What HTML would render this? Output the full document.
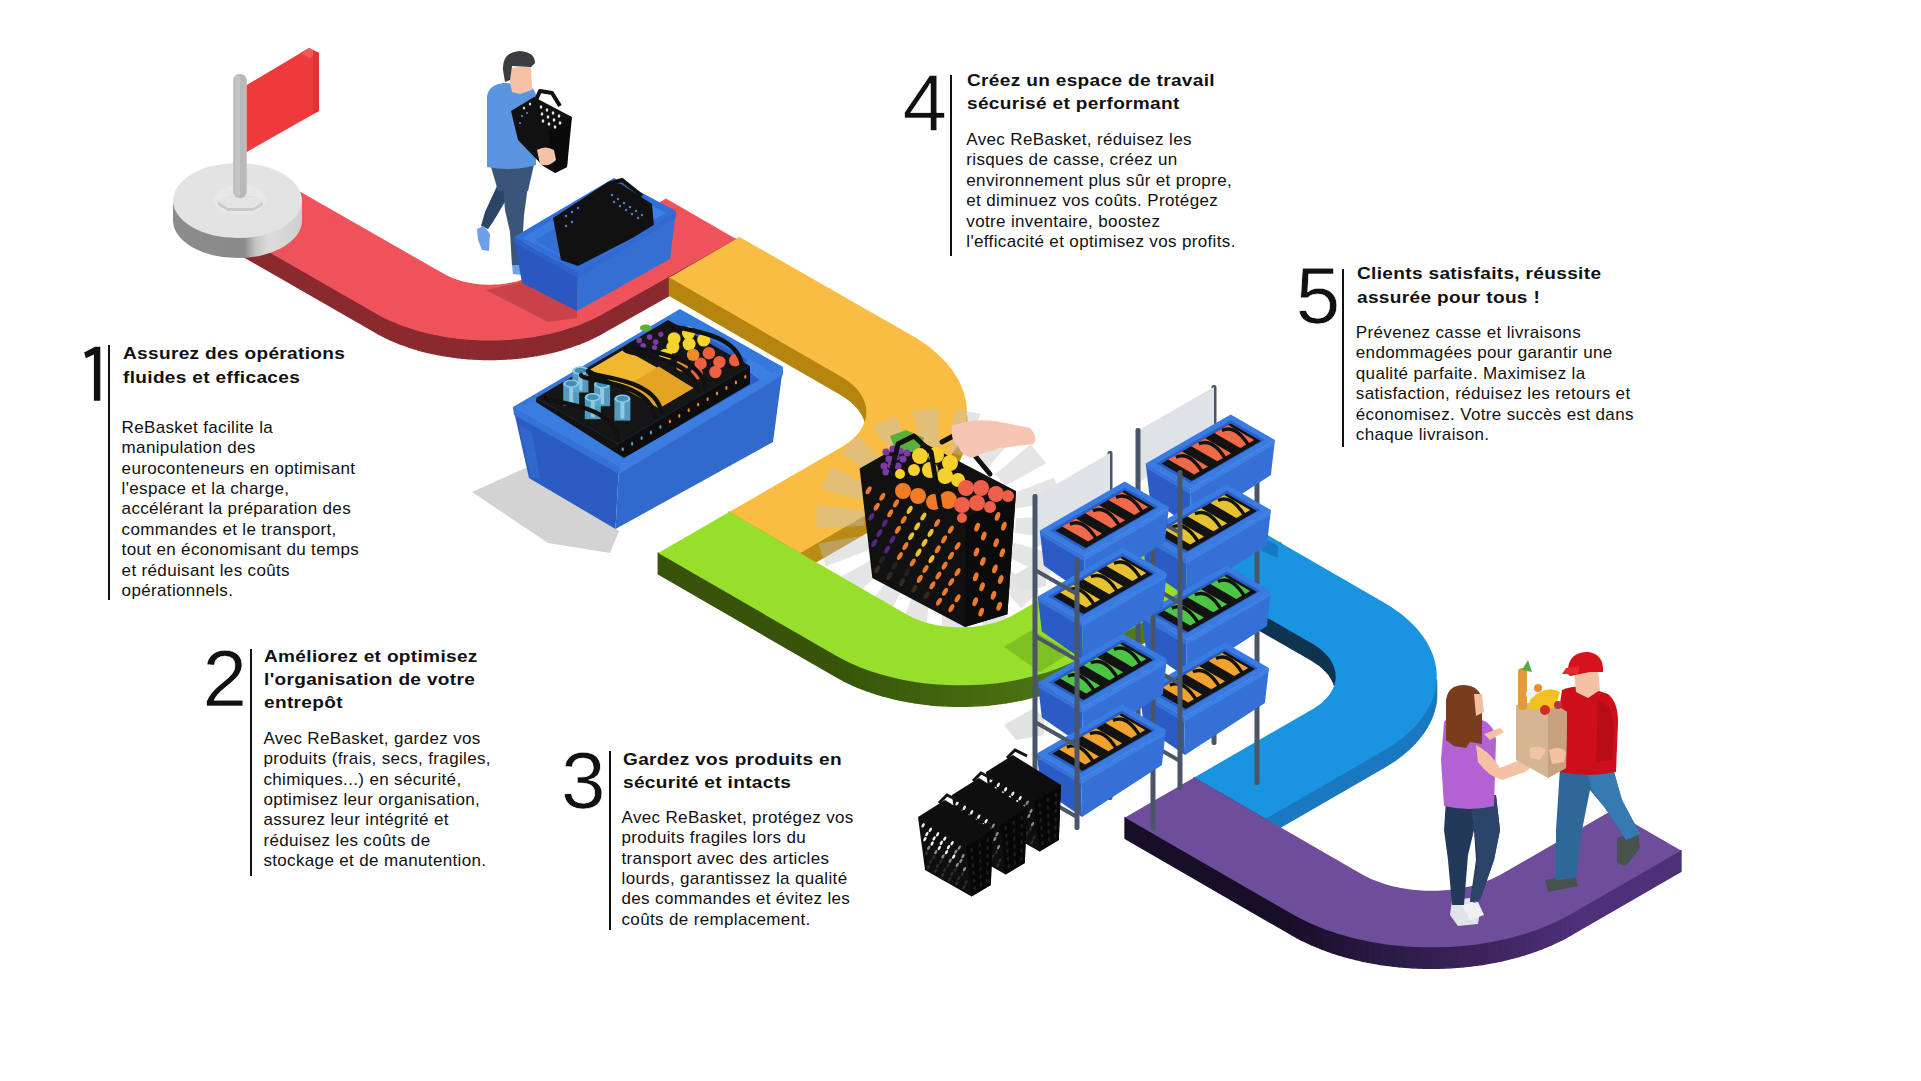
<!DOCTYPE html>
<html><head><meta charset="utf-8">
<style>
html,body{margin:0;padding:0;background:#fff;}
body{width:1921px;height:1081px;position:relative;overflow:hidden;font-family:"Liberation Sans",sans-serif;color:#111;}
svg{position:absolute;left:0;top:0;}
.num{position:absolute;font-size:80px;line-height:80px;font-weight:400;color:#111;-webkit-text-stroke:0.7px #fff;}
.bar{position:absolute;width:2.2px;background:#111;}
.t{position:absolute;font-weight:700;font-size:17px;line-height:23.3px;letter-spacing:0.3px;white-space:nowrap;color:#111;transform:scaleX(1.12);transform-origin:0 0;}
.b{position:absolute;font-weight:400;font-size:17px;line-height:20.4px;letter-spacing:0.35px;white-space:nowrap;color:#111;}
</style></head><body>
<svg width="1921" height="1081" viewBox="0 0 1921 1081">
<defs>

</defs>
<g id="ext">
<path d="M207.8,217.0 L375.4,313.2 L375.4,332.2 L207.8,236.0 Z" fill="#8a2a2e" stroke="#8a2a2e" stroke-width="1.3" stroke-linejoin="round"/>
<path d="M375.4,313.2 L379.2,315.4 L379.2,334.4 L375.4,332.2 Z" fill="#8a2a2e" stroke="#8a2a2e" stroke-width="1.3" stroke-linejoin="round"/>
<path d="M379.2,315.4 L383.1,317.4 L383.1,336.4 L379.2,334.4 Z" fill="#8a2a2e" stroke="#8a2a2e" stroke-width="1.3" stroke-linejoin="round"/>
<path d="M383.1,317.4 L387.2,319.4 L387.2,338.4 L383.1,336.4 Z" fill="#8a2a2e" stroke="#8a2a2e" stroke-width="1.3" stroke-linejoin="round"/>
<path d="M387.2,319.4 L391.3,321.3 L391.3,340.3 L387.2,338.4 Z" fill="#8a2a2e" stroke="#8a2a2e" stroke-width="1.3" stroke-linejoin="round"/>
<path d="M391.3,321.3 L395.6,323.1 L395.6,342.1 L391.3,340.3 Z" fill="#8a2a2e" stroke="#8a2a2e" stroke-width="1.3" stroke-linejoin="round"/>
<path d="M395.6,323.1 L399.9,324.9 L399.9,343.9 L395.6,342.1 Z" fill="#8a2a2e" stroke="#8a2a2e" stroke-width="1.3" stroke-linejoin="round"/>
<path d="M399.9,324.9 L404.4,326.5 L404.4,345.5 L399.9,343.9 Z" fill="#8a2a2e" stroke="#8a2a2e" stroke-width="1.3" stroke-linejoin="round"/>
<path d="M404.4,326.5 L408.9,328.1 L408.9,347.1 L404.4,345.5 Z" fill="#8a2a2e" stroke="#8a2a2e" stroke-width="1.3" stroke-linejoin="round"/>
<path d="M408.9,328.1 L413.5,329.6 L413.5,348.6 L408.9,347.1 Z" fill="#8a2a2e" stroke="#8a2a2e" stroke-width="1.3" stroke-linejoin="round"/>
<path d="M413.5,329.6 L418.2,331.0 L418.2,350.0 L413.5,348.6 Z" fill="#8a2a2e" stroke="#8a2a2e" stroke-width="1.3" stroke-linejoin="round"/>
<path d="M418.2,331.0 L423.0,332.3 L423.0,351.3 L418.2,350.0 Z" fill="#8a2a2e" stroke="#8a2a2e" stroke-width="1.3" stroke-linejoin="round"/>
<path d="M423.0,332.3 L427.9,333.5 L427.9,352.5 L423.0,351.3 Z" fill="#8a2a2e" stroke="#8a2a2e" stroke-width="1.3" stroke-linejoin="round"/>
<path d="M427.9,333.5 L432.8,334.6 L432.8,353.6 L427.9,352.5 Z" fill="#8a2a2e" stroke="#8a2a2e" stroke-width="1.3" stroke-linejoin="round"/>
<path d="M432.8,334.6 L437.8,335.6 L437.8,354.6 L432.8,353.6 Z" fill="#8a2a2e" stroke="#8a2a2e" stroke-width="1.3" stroke-linejoin="round"/>
<path d="M437.8,335.6 L442.8,336.6 L442.8,355.6 L437.8,354.6 Z" fill="#8a2a2e" stroke="#8a2a2e" stroke-width="1.3" stroke-linejoin="round"/>
<path d="M442.8,336.6 L447.9,337.4 L447.9,356.4 L442.8,355.6 Z" fill="#8a2a2e" stroke="#8a2a2e" stroke-width="1.3" stroke-linejoin="round"/>
<path d="M447.9,337.4 L453.0,338.1 L453.0,357.1 L447.9,356.4 Z" fill="#8a2a2e" stroke="#8a2a2e" stroke-width="1.3" stroke-linejoin="round"/>
<path d="M453.0,338.1 L458.2,338.8 L458.2,357.8 L453.0,357.1 Z" fill="#8a2a2e" stroke="#8a2a2e" stroke-width="1.3" stroke-linejoin="round"/>
<path d="M458.2,338.8 L463.4,339.3 L463.4,358.3 L458.2,357.8 Z" fill="#8a2a2e" stroke="#8a2a2e" stroke-width="1.3" stroke-linejoin="round"/>
<path d="M463.4,339.3 L468.6,339.8 L468.6,358.8 L463.4,358.3 Z" fill="#8a2a2e" stroke="#8a2a2e" stroke-width="1.3" stroke-linejoin="round"/>
<path d="M468.6,339.8 L473.9,340.1 L473.9,359.1 L468.6,358.8 Z" fill="#8a2a2e" stroke="#8a2a2e" stroke-width="1.3" stroke-linejoin="round"/>
<path d="M473.9,340.1 L479.2,340.4 L479.2,359.4 L473.9,359.1 Z" fill="#8a2a2e" stroke="#8a2a2e" stroke-width="1.3" stroke-linejoin="round"/>
<path d="M479.2,340.4 L484.4,340.5 L484.4,359.5 L479.2,359.4 Z" fill="#8a2a2e" stroke="#8a2a2e" stroke-width="1.3" stroke-linejoin="round"/>
<path d="M484.4,340.5 L489.7,340.6 L489.7,359.6 L484.4,359.5 Z" fill="#8a2a2e" stroke="#8a2a2e" stroke-width="1.3" stroke-linejoin="round"/>
<path d="M489.7,340.6 L495.0,340.5 L495.0,359.5 L489.7,359.6 Z" fill="#8a2a2e" stroke="#8a2a2e" stroke-width="1.3" stroke-linejoin="round"/>
<path d="M495.0,340.5 L500.3,340.4 L500.3,359.4 L495.0,359.5 Z" fill="#8a2a2e" stroke="#8a2a2e" stroke-width="1.3" stroke-linejoin="round"/>
<path d="M500.3,340.4 L505.6,340.1 L505.6,359.1 L500.3,359.4 Z" fill="#8a2a2e" stroke="#8a2a2e" stroke-width="1.3" stroke-linejoin="round"/>
<path d="M505.6,340.1 L510.8,339.8 L510.8,358.8 L505.6,359.1 Z" fill="#8a2a2e" stroke="#8a2a2e" stroke-width="1.3" stroke-linejoin="round"/>
<path d="M510.8,339.8 L516.1,339.3 L516.1,358.3 L510.8,358.8 Z" fill="#8a2a2e" stroke="#8a2a2e" stroke-width="1.3" stroke-linejoin="round"/>
<path d="M516.1,339.3 L521.3,338.8 L521.3,357.8 L516.1,358.3 Z" fill="#8a2a2e" stroke="#8a2a2e" stroke-width="1.3" stroke-linejoin="round"/>
<path d="M521.3,338.8 L526.4,338.1 L526.4,357.1 L521.3,357.8 Z" fill="#8a2a2e" stroke="#8a2a2e" stroke-width="1.3" stroke-linejoin="round"/>
<path d="M526.4,338.1 L531.6,337.4 L531.6,356.4 L526.4,357.1 Z" fill="#8a2a2e" stroke="#8a2a2e" stroke-width="1.3" stroke-linejoin="round"/>
<path d="M531.6,337.4 L536.7,336.6 L536.7,355.6 L531.6,356.4 Z" fill="#8a2a2e" stroke="#8a2a2e" stroke-width="1.3" stroke-linejoin="round"/>
<path d="M536.7,336.6 L541.7,335.6 L541.7,354.6 L536.7,355.6 Z" fill="#8a2a2e" stroke="#8a2a2e" stroke-width="1.3" stroke-linejoin="round"/>
<path d="M541.7,335.6 L546.7,334.6 L546.7,353.6 L541.7,354.6 Z" fill="#8a2a2e" stroke="#8a2a2e" stroke-width="1.3" stroke-linejoin="round"/>
<path d="M546.7,334.6 L551.6,333.5 L551.6,352.5 L546.7,353.6 Z" fill="#8a2a2e" stroke="#8a2a2e" stroke-width="1.3" stroke-linejoin="round"/>
<path d="M551.6,333.5 L556.5,332.3 L556.5,351.3 L551.6,352.5 Z" fill="#8a2a2e" stroke="#8a2a2e" stroke-width="1.3" stroke-linejoin="round"/>
<path d="M556.5,332.3 L561.2,331.0 L561.2,350.0 L556.5,351.3 Z" fill="#8a2a2e" stroke="#8a2a2e" stroke-width="1.3" stroke-linejoin="round"/>
<path d="M561.2,331.0 L565.9,329.6 L565.9,348.6 L561.2,350.0 Z" fill="#8a2a2e" stroke="#8a2a2e" stroke-width="1.3" stroke-linejoin="round"/>
<path d="M565.9,329.6 L570.6,328.1 L570.6,347.1 L565.9,348.6 Z" fill="#8a2a2e" stroke="#8a2a2e" stroke-width="1.3" stroke-linejoin="round"/>
<path d="M570.6,328.1 L575.1,326.5 L575.1,345.5 L570.6,347.1 Z" fill="#8a2a2e" stroke="#8a2a2e" stroke-width="1.3" stroke-linejoin="round"/>
<path d="M575.1,326.5 L579.6,324.9 L579.6,343.9 L575.1,345.5 Z" fill="#8a2a2e" stroke="#8a2a2e" stroke-width="1.3" stroke-linejoin="round"/>
<path d="M579.6,324.9 L583.9,323.1 L583.9,342.1 L579.6,343.9 Z" fill="#8a2a2e" stroke="#8a2a2e" stroke-width="1.3" stroke-linejoin="round"/>
<path d="M583.9,323.1 L588.2,321.3 L588.2,340.3 L583.9,342.1 Z" fill="#8a2a2e" stroke="#8a2a2e" stroke-width="1.3" stroke-linejoin="round"/>
<path d="M588.2,321.3 L592.3,319.4 L592.3,338.4 L588.2,340.3 Z" fill="#8a2a2e" stroke="#8a2a2e" stroke-width="1.3" stroke-linejoin="round"/>
<path d="M592.3,319.4 L596.3,317.4 L596.3,336.4 L592.3,338.4 Z" fill="#8a2a2e" stroke="#8a2a2e" stroke-width="1.3" stroke-linejoin="round"/>
<path d="M596.3,317.4 L600.3,315.4 L600.3,334.4 L596.3,336.4 Z" fill="#8a2a2e" stroke="#8a2a2e" stroke-width="1.3" stroke-linejoin="round"/>
<path d="M600.3,315.4 L604.1,313.2 L604.1,332.2 L600.3,334.4 Z" fill="#8a2a2e" stroke="#8a2a2e" stroke-width="1.3" stroke-linejoin="round"/>
<path d="M604.1,313.2 L736.1,239.0 L736.1,258.0 L604.1,332.2 Z" fill="#8a2a2e" stroke="#8a2a2e" stroke-width="1.3" stroke-linejoin="round"/>
<path d="M207.8,217.0 L375.4,313.2 L379.2,315.4 L383.1,317.4 L387.2,319.4 L391.3,321.3 L395.6,323.1 L399.9,324.9 L404.4,326.5 L408.9,328.1 L413.5,329.6 L418.2,331.0 L423.0,332.3 L427.9,333.5 L432.8,334.6 L437.8,335.6 L442.8,336.6 L447.9,337.4 L453.0,338.1 L458.2,338.8 L463.4,339.3 L468.6,339.8 L473.9,340.1 L479.2,340.4 L484.4,340.5 L489.7,340.6 L495.0,340.5 L500.3,340.4 L505.6,340.1 L510.8,339.8 L516.1,339.3 L521.3,338.8 L526.4,338.1 L531.6,337.4 L536.7,336.6 L541.7,335.6 L546.7,334.6 L551.6,333.5 L556.5,332.3 L561.2,331.0 L565.9,329.6 L570.6,328.1 L575.1,326.5 L579.6,324.9 L583.9,323.1 L588.2,321.3 L592.3,319.4 L596.3,317.4 L600.3,315.4 L604.1,313.2 L736.1,239.0 L666.0,198.5 L535.6,273.8 L534.1,274.6 L532.5,275.4 L530.9,276.2 L529.3,277.0 L527.5,277.7 L525.8,278.4 L524.0,279.1 L522.2,279.7 L520.3,280.3 L518.4,280.9 L516.5,281.4 L514.6,281.9 L512.6,282.3 L510.6,282.7 L508.6,283.1 L506.5,283.4 L504.5,283.7 L502.4,284.0 L500.3,284.2 L498.2,284.4 L496.1,284.5 L494.0,284.6 L491.9,284.7 L489.7,284.7 L487.6,284.7 L485.5,284.6 L483.4,284.5 L481.3,284.4 L479.2,284.2 L477.1,284.0 L475.0,283.7 L472.9,283.4 L470.9,283.1 L468.9,282.7 L466.9,282.3 L464.9,281.9 L462.9,281.4 L461.0,280.9 L459.1,280.3 L457.3,279.7 L455.5,279.1 L453.7,278.4 L451.9,277.7 L450.2,277.0 L448.6,276.2 L446.9,275.4 L445.4,274.6 L443.8,273.8 L275.8,177.8 Z" fill="#ee535c"/>
<path d="M966.7,415.5 L966.4,419.1 L966.4,437.1 L966.7,433.5 Z" fill="#b98a14" stroke="#b98a14" stroke-width="1.3" stroke-linejoin="round"/>
<path d="M966.4,419.1 L965.9,422.6 L965.9,440.6 L966.4,437.1 Z" fill="#b98a14" stroke="#b98a14" stroke-width="1.3" stroke-linejoin="round"/>
<path d="M965.9,422.6 L965.2,426.1 L965.2,444.1 L965.9,440.6 Z" fill="#b98a14" stroke="#b98a14" stroke-width="1.3" stroke-linejoin="round"/>
<path d="M965.2,426.1 L964.3,429.6 L964.3,447.6 L965.2,444.1 Z" fill="#b98a14" stroke="#b98a14" stroke-width="1.3" stroke-linejoin="round"/>
<path d="M964.3,429.6 L963.2,433.1 L963.2,451.1 L964.3,447.6 Z" fill="#b98a14" stroke="#b98a14" stroke-width="1.3" stroke-linejoin="round"/>
<path d="M963.2,433.1 L961.9,436.6 L961.9,454.6 L963.2,451.1 Z" fill="#b98a14" stroke="#b98a14" stroke-width="1.3" stroke-linejoin="round"/>
<path d="M961.9,436.6 L960.4,440.0 L960.4,458.0 L961.9,454.6 Z" fill="#b98a14" stroke="#b98a14" stroke-width="1.3" stroke-linejoin="round"/>
<path d="M960.4,440.0 L958.7,443.4 L958.7,461.4 L960.4,458.0 Z" fill="#b98a14" stroke="#b98a14" stroke-width="1.3" stroke-linejoin="round"/>
<path d="M958.7,443.4 L956.9,446.8 L956.9,464.8 L958.7,461.4 Z" fill="#b98a14" stroke="#b98a14" stroke-width="1.3" stroke-linejoin="round"/>
<path d="M956.9,446.8 L954.8,450.1 L954.8,468.1 L956.9,464.8 Z" fill="#b98a14" stroke="#b98a14" stroke-width="1.3" stroke-linejoin="round"/>
<path d="M954.8,450.1 L952.5,453.4 L952.5,471.4 L954.8,468.1 Z" fill="#b98a14" stroke="#b98a14" stroke-width="1.3" stroke-linejoin="round"/>
<path d="M952.5,453.4 L950.1,456.6 L950.1,474.6 L952.5,471.4 Z" fill="#b98a14" stroke="#b98a14" stroke-width="1.3" stroke-linejoin="round"/>
<path d="M950.1,456.6 L947.5,459.9 L947.5,477.9 L950.1,474.6 Z" fill="#b98a14" stroke="#b98a14" stroke-width="1.3" stroke-linejoin="round"/>
<path d="M947.5,459.9 L944.7,463.0 L944.7,481.0 L947.5,477.9 Z" fill="#b98a14" stroke="#b98a14" stroke-width="1.3" stroke-linejoin="round"/>
<path d="M944.7,463.0 L941.7,466.1 L941.7,484.1 L944.7,481.0 Z" fill="#b98a14" stroke="#b98a14" stroke-width="1.3" stroke-linejoin="round"/>
<path d="M941.7,466.1 L938.6,469.1 L938.6,487.1 L941.7,484.1 Z" fill="#b98a14" stroke="#b98a14" stroke-width="1.3" stroke-linejoin="round"/>
<path d="M938.6,469.1 L935.2,472.1 L935.2,490.1 L938.6,487.1 Z" fill="#b98a14" stroke="#b98a14" stroke-width="1.3" stroke-linejoin="round"/>
<path d="M935.2,472.1 L931.7,475.0 L931.7,493.0 L935.2,490.1 Z" fill="#b98a14" stroke="#b98a14" stroke-width="1.3" stroke-linejoin="round"/>
<path d="M931.7,475.0 L928.1,477.9 L928.1,495.9 L931.7,493.0 Z" fill="#b98a14" stroke="#b98a14" stroke-width="1.3" stroke-linejoin="round"/>
<path d="M928.1,477.9 L924.3,480.6 L924.3,498.6 L928.1,495.9 Z" fill="#b98a14" stroke="#b98a14" stroke-width="1.3" stroke-linejoin="round"/>
<path d="M924.3,480.6 L920.3,483.3 L920.3,501.3 L924.3,498.6 Z" fill="#b98a14" stroke="#b98a14" stroke-width="1.3" stroke-linejoin="round"/>
<path d="M920.3,483.3 L916.2,486.0 L916.2,504.0 L920.3,501.3 Z" fill="#b98a14" stroke="#b98a14" stroke-width="1.3" stroke-linejoin="round"/>
<path d="M916.2,486.0 L911.9,488.5 L911.9,506.5 L916.2,504.0 Z" fill="#b98a14" stroke="#b98a14" stroke-width="1.3" stroke-linejoin="round"/>
<path d="M911.9,488.5 L800.2,553.0 L800.2,571.0 L911.9,506.5 Z" fill="#b98a14" stroke="#b98a14" stroke-width="1.3" stroke-linejoin="round"/>
<path d="M800.2,553.0 L729.2,512.0 L729.2,530.0 L800.2,571.0 Z" fill="#b5850f" stroke="#b5850f" stroke-width="1.3" stroke-linejoin="round"/>
<path d="M866.3,410.4 L866.2,408.7 L866.2,426.7 L866.3,428.4 Z" fill="#b5850f" stroke="#b5850f" stroke-width="1.3" stroke-linejoin="round"/>
<path d="M866.2,408.7 L866.0,407.1 L866.0,425.1 L866.2,426.7 Z" fill="#b5850f" stroke="#b5850f" stroke-width="1.3" stroke-linejoin="round"/>
<path d="M866.0,407.1 L865.6,405.4 L865.6,423.4 L866.0,425.1 Z" fill="#b5850f" stroke="#b5850f" stroke-width="1.3" stroke-linejoin="round"/>
<path d="M865.6,405.4 L865.2,403.8 L865.2,421.8 L865.6,423.4 Z" fill="#b5850f" stroke="#b5850f" stroke-width="1.3" stroke-linejoin="round"/>
<path d="M865.2,403.8 L864.7,402.2 L864.7,420.2 L865.2,421.8 Z" fill="#b5850f" stroke="#b5850f" stroke-width="1.3" stroke-linejoin="round"/>
<path d="M864.7,402.2 L864.1,400.6 L864.1,418.6 L864.7,420.2 Z" fill="#b5850f" stroke="#b5850f" stroke-width="1.3" stroke-linejoin="round"/>
<path d="M864.1,400.6 L863.4,399.0 L863.4,417.0 L864.1,418.6 Z" fill="#b5850f" stroke="#b5850f" stroke-width="1.3" stroke-linejoin="round"/>
<path d="M863.4,399.0 L862.6,397.4 L862.6,415.4 L863.4,417.0 Z" fill="#b5850f" stroke="#b5850f" stroke-width="1.3" stroke-linejoin="round"/>
<path d="M862.6,397.4 L861.8,395.9 L861.8,413.9 L862.6,415.4 Z" fill="#b5850f" stroke="#b5850f" stroke-width="1.3" stroke-linejoin="round"/>
<path d="M861.8,395.9 L860.8,394.3 L860.8,412.3 L861.8,413.9 Z" fill="#b5850f" stroke="#b5850f" stroke-width="1.3" stroke-linejoin="round"/>
<path d="M860.8,394.3 L859.8,392.8 L859.8,410.8 L860.8,412.3 Z" fill="#b5850f" stroke="#b5850f" stroke-width="1.3" stroke-linejoin="round"/>
<path d="M859.8,392.8 L858.6,391.3 L858.6,409.3 L859.8,410.8 Z" fill="#b5850f" stroke="#b5850f" stroke-width="1.3" stroke-linejoin="round"/>
<path d="M858.6,391.3 L857.4,389.8 L857.4,407.8 L858.6,409.3 Z" fill="#b5850f" stroke="#b5850f" stroke-width="1.3" stroke-linejoin="round"/>
<path d="M857.4,389.8 L856.1,388.3 L856.1,406.3 L857.4,407.8 Z" fill="#b5850f" stroke="#b5850f" stroke-width="1.3" stroke-linejoin="round"/>
<path d="M856.1,388.3 L854.7,386.9 L854.7,404.9 L856.1,406.3 Z" fill="#b5850f" stroke="#b5850f" stroke-width="1.3" stroke-linejoin="round"/>
<path d="M854.7,386.9 L853.3,385.5 L853.3,403.5 L854.7,404.9 Z" fill="#b5850f" stroke="#b5850f" stroke-width="1.3" stroke-linejoin="round"/>
<path d="M853.3,385.5 L851.7,384.1 L851.7,402.1 L853.3,403.5 Z" fill="#b5850f" stroke="#b5850f" stroke-width="1.3" stroke-linejoin="round"/>
<path d="M851.7,384.1 L850.1,382.8 L850.1,400.8 L851.7,402.1 Z" fill="#b5850f" stroke="#b5850f" stroke-width="1.3" stroke-linejoin="round"/>
<path d="M850.1,382.8 L848.4,381.4 L848.4,399.4 L850.1,400.8 Z" fill="#b5850f" stroke="#b5850f" stroke-width="1.3" stroke-linejoin="round"/>
<path d="M848.4,381.4 L846.6,380.2 L846.6,398.2 L848.4,399.4 Z" fill="#b5850f" stroke="#b5850f" stroke-width="1.3" stroke-linejoin="round"/>
<path d="M846.6,380.2 L844.8,378.9 L844.8,396.9 L846.6,398.2 Z" fill="#b5850f" stroke="#b5850f" stroke-width="1.3" stroke-linejoin="round"/>
<path d="M844.8,378.9 L842.9,377.7 L842.9,395.7 L844.8,396.9 Z" fill="#b5850f" stroke="#b5850f" stroke-width="1.3" stroke-linejoin="round"/>
<path d="M842.9,377.7 L840.9,376.5 L840.9,394.5 L842.9,395.7 Z" fill="#b5850f" stroke="#b5850f" stroke-width="1.3" stroke-linejoin="round"/>
<path d="M840.9,376.5 L669.4,277.5 L669.4,295.5 L840.9,394.5 Z" fill="#b5850f" stroke="#b5850f" stroke-width="1.3" stroke-linejoin="round"/>
<path d="M739.6,237.0 L911.9,335.5 L916.2,338.0 L920.3,340.7 L924.3,343.4 L928.1,346.1 L931.7,349.0 L935.2,351.9 L938.6,354.9 L941.7,357.9 L944.7,361.0 L947.5,364.1 L950.1,367.4 L952.5,370.6 L954.8,373.9 L956.9,377.2 L958.7,380.6 L960.4,384.0 L961.9,387.4 L963.2,390.9 L964.3,394.4 L965.2,397.9 L965.9,401.4 L966.4,404.9 L966.7,408.5 L966.8,412.0 L966.7,415.5 L966.4,419.1 L965.9,422.6 L965.2,426.1 L964.3,429.6 L963.2,433.1 L961.9,436.6 L960.4,440.0 L958.7,443.4 L956.9,446.8 L954.8,450.1 L952.5,453.4 L950.1,456.6 L947.5,459.9 L944.7,463.0 L941.7,466.1 L938.6,469.1 L935.2,472.1 L931.7,475.0 L928.1,477.9 L924.3,480.6 L920.3,483.3 L916.2,486.0 L911.9,488.5 L800.2,553.0 L729.2,512.0 L840.9,447.5 L842.9,446.3 L844.8,445.1 L846.6,443.8 L848.4,442.6 L850.1,441.2 L851.7,439.9 L853.3,438.5 L854.7,437.1 L856.1,435.7 L857.4,434.2 L858.6,432.7 L859.8,431.2 L860.8,429.7 L861.8,428.1 L862.6,426.6 L863.4,425.0 L864.1,423.4 L864.7,421.8 L865.2,420.2 L865.6,418.6 L866.0,416.9 L866.2,415.3 L866.3,413.6 L866.4,412.0 L866.3,410.4 L866.2,408.7 L866.0,407.1 L865.6,405.4 L865.2,403.8 L864.7,402.2 L864.1,400.6 L863.4,399.0 L862.6,397.4 L861.8,395.9 L860.8,394.3 L859.8,392.8 L858.6,391.3 L857.4,389.8 L856.1,388.3 L854.7,386.9 L853.3,385.5 L851.7,384.1 L850.1,382.8 L848.4,381.4 L846.6,380.2 L844.8,378.9 L842.9,377.7 L840.9,376.5 L669.4,277.5 Z" fill="#f9bd44"/>
<path d="M867.3,501.6 L821.4,488.6 L831.5,466.7 L873.5,488.1 Z M879.3,479.9 L841.0,453.3 L858.6,435.9 L890.1,469.2 Z M898.6,463.4 L872.5,426.3 L895.6,415.5 L912.8,456.7 Z M922.9,453.9 L912.1,410.8 L937.8,407.9 L938.7,452.1 Z M949.3,452.6 L955.1,408.8 L980.4,414.1 L964.7,455.9 Z M974.5,459.7 L996.3,420.4 L1018.0,433.3 L987.8,467.7 Z M995.6,474.3 L1030.7,444.2 L1046.3,463.2 L1005.1,486.0 Z M1010.0,494.7 L1054.1,477.4 L1061.7,500.2 L1014.6,508.7 Z M1015.9,518.3 L1063.8,516.0 L1062.5,539.8 L1015.1,532.9 Z M1012.7,542.4 L1058.6,555.4 L1048.5,577.3 L1006.5,555.9 Z M1000.7,564.1 L1039.0,590.7 L1021.4,608.1 L989.9,574.8 Z M981.4,580.6 L1007.5,617.7 L984.4,628.5 L967.2,587.3 Z M957.1,590.1 L967.9,633.2 L942.2,636.1 L941.3,591.9 Z M930.7,591.4 L924.9,635.2 L899.6,629.9 L915.3,588.1 Z M905.5,584.3 L883.7,623.6 L862.0,610.7 L892.2,576.3 Z M884.4,569.7 L849.3,599.8 L833.7,580.8 L874.9,558.0 Z M870.0,549.3 L825.9,566.6 L818.3,543.8 L865.4,535.3 Z M864.1,525.7 L816.2,528.0 L817.5,504.2 L864.9,511.1 Z" fill="#c2c2c2" opacity="0.42"/>

<path d="M658.2,553.0 L835.7,655.5 L835.7,676.5 L658.2,574.0 Z" fill="#37540a" stroke="#37540a" stroke-width="1.3" stroke-linejoin="round"/>
<path d="M835.7,655.5 L839.9,657.8 L839.9,678.8 L835.7,676.5 Z" fill="#37540a" stroke="#37540a" stroke-width="1.3" stroke-linejoin="round"/>
<path d="M839.9,657.8 L844.1,660.1 L844.1,681.1 L839.9,678.8 Z" fill="#38550a" stroke="#38550a" stroke-width="1.3" stroke-linejoin="round"/>
<path d="M844.1,660.1 L848.5,662.2 L848.5,683.2 L844.1,681.1 Z" fill="#38560b" stroke="#38560b" stroke-width="1.3" stroke-linejoin="round"/>
<path d="M848.5,662.2 L853.1,664.3 L853.1,685.3 L848.5,683.2 Z" fill="#39570b" stroke="#39570b" stroke-width="1.3" stroke-linejoin="round"/>
<path d="M853.1,664.3 L857.7,666.3 L857.7,687.3 L853.1,685.3 Z" fill="#39580b" stroke="#39580b" stroke-width="1.3" stroke-linejoin="round"/>
<path d="M857.7,666.3 L862.4,668.2 L862.4,689.2 L857.7,687.3 Z" fill="#3a580b" stroke="#3a580b" stroke-width="1.3" stroke-linejoin="round"/>
<path d="M862.4,668.2 L867.3,670.0 L867.3,691.0 L862.4,689.2 Z" fill="#3a590b" stroke="#3a590b" stroke-width="1.3" stroke-linejoin="round"/>
<path d="M867.3,670.0 L872.2,671.7 L872.2,692.7 L867.3,691.0 Z" fill="#3b5a0c" stroke="#3b5a0c" stroke-width="1.3" stroke-linejoin="round"/>
<path d="M872.2,671.7 L877.3,673.3 L877.3,694.3 L872.2,692.7 Z" fill="#3b5b0c" stroke="#3b5b0c" stroke-width="1.3" stroke-linejoin="round"/>
<path d="M877.3,673.3 L882.4,674.8 L882.4,695.8 L877.3,694.3 Z" fill="#3c5c0c" stroke="#3c5c0c" stroke-width="1.3" stroke-linejoin="round"/>
<path d="M882.4,674.8 L887.6,676.2 L887.6,697.2 L882.4,695.8 Z" fill="#3c5c0c" stroke="#3c5c0c" stroke-width="1.3" stroke-linejoin="round"/>
<path d="M887.6,676.2 L892.9,677.6 L892.9,698.6 L887.6,697.2 Z" fill="#3d5d0c" stroke="#3d5d0c" stroke-width="1.3" stroke-linejoin="round"/>
<path d="M892.9,677.6 L898.3,678.8 L898.3,699.8 L892.9,698.6 Z" fill="#3d5e0d" stroke="#3d5e0d" stroke-width="1.3" stroke-linejoin="round"/>
<path d="M898.3,678.8 L903.7,679.9 L903.7,700.9 L898.3,699.8 Z" fill="#3e5f0d" stroke="#3e5f0d" stroke-width="1.3" stroke-linejoin="round"/>
<path d="M903.7,679.9 L909.2,680.9 L909.2,701.9 L903.7,700.9 Z" fill="#3e5f0d" stroke="#3e5f0d" stroke-width="1.3" stroke-linejoin="round"/>
<path d="M909.2,680.9 L914.8,681.9 L914.8,702.9 L909.2,701.9 Z" fill="#3f600d" stroke="#3f600d" stroke-width="1.3" stroke-linejoin="round"/>
<path d="M914.8,681.9 L920.4,682.7 L920.4,703.7 L914.8,702.9 Z" fill="#3f610d" stroke="#3f610d" stroke-width="1.3" stroke-linejoin="round"/>
<path d="M920.4,682.7 L926.0,683.4 L926.0,704.4 L920.4,703.7 Z" fill="#40620e" stroke="#40620e" stroke-width="1.3" stroke-linejoin="round"/>
<path d="M926.0,683.4 L931.7,684.0 L931.7,705.0 L926.0,704.4 Z" fill="#40630e" stroke="#40630e" stroke-width="1.3" stroke-linejoin="round"/>
<path d="M931.7,684.0 L937.4,684.5 L937.4,705.5 L931.7,705.0 Z" fill="#41630e" stroke="#41630e" stroke-width="1.3" stroke-linejoin="round"/>
<path d="M937.4,684.5 L943.1,684.8 L943.1,705.8 L937.4,705.5 Z" fill="#41640e" stroke="#41640e" stroke-width="1.3" stroke-linejoin="round"/>
<path d="M943.1,684.8 L948.9,685.1 L948.9,706.1 L943.1,705.8 Z" fill="#42650e" stroke="#42650e" stroke-width="1.3" stroke-linejoin="round"/>
<path d="M948.9,685.1 L954.7,685.3 L954.7,706.3 L948.9,706.1 Z" fill="#42660f" stroke="#42660f" stroke-width="1.3" stroke-linejoin="round"/>
<path d="M954.7,685.3 L960.4,685.3 L960.4,706.3 L954.7,706.3 Z" fill="#43670f" stroke="#43670f" stroke-width="1.3" stroke-linejoin="round"/>
<path d="M960.4,685.3 L966.2,685.3 L966.2,706.3 L960.4,706.3 Z" fill="#43670f" stroke="#43670f" stroke-width="1.3" stroke-linejoin="round"/>
<path d="M966.2,685.3 L972.0,685.1 L972.0,706.1 L966.2,706.3 Z" fill="#44680f" stroke="#44680f" stroke-width="1.3" stroke-linejoin="round"/>
<path d="M972.0,685.1 L977.7,684.8 L977.7,705.8 L972.0,706.1 Z" fill="#446910" stroke="#446910" stroke-width="1.3" stroke-linejoin="round"/>
<path d="M977.7,684.8 L983.4,684.5 L983.4,705.5 L977.7,705.8 Z" fill="#456a10" stroke="#456a10" stroke-width="1.3" stroke-linejoin="round"/>
<path d="M983.4,684.5 L989.2,684.0 L989.2,705.0 L983.4,705.5 Z" fill="#456b10" stroke="#456b10" stroke-width="1.3" stroke-linejoin="round"/>
<path d="M989.2,684.0 L994.8,683.4 L994.8,704.4 L989.2,705.0 Z" fill="#466b10" stroke="#466b10" stroke-width="1.3" stroke-linejoin="round"/>
<path d="M994.8,683.4 L1000.5,682.7 L1000.5,703.7 L994.8,704.4 Z" fill="#466c10" stroke="#466c10" stroke-width="1.3" stroke-linejoin="round"/>
<path d="M1000.5,682.7 L1006.1,681.9 L1006.1,702.9 L1000.5,703.7 Z" fill="#476d11" stroke="#476d11" stroke-width="1.3" stroke-linejoin="round"/>
<path d="M1006.1,681.9 L1011.6,680.9 L1011.6,701.9 L1006.1,702.9 Z" fill="#476e11" stroke="#476e11" stroke-width="1.3" stroke-linejoin="round"/>
<path d="M1011.6,680.9 L1017.1,679.9 L1017.1,700.9 L1011.6,701.9 Z" fill="#486f11" stroke="#486f11" stroke-width="1.3" stroke-linejoin="round"/>
<path d="M1017.1,679.9 L1022.5,678.8 L1022.5,699.8 L1017.1,700.9 Z" fill="#486f11" stroke="#486f11" stroke-width="1.3" stroke-linejoin="round"/>
<path d="M1022.5,678.8 L1027.9,677.6 L1027.9,698.6 L1022.5,699.8 Z" fill="#497011" stroke="#497011" stroke-width="1.3" stroke-linejoin="round"/>
<path d="M1027.9,677.6 L1033.2,676.2 L1033.2,697.2 L1027.9,698.6 Z" fill="#497112" stroke="#497112" stroke-width="1.3" stroke-linejoin="round"/>
<path d="M1033.2,676.2 L1038.4,674.8 L1038.4,695.8 L1033.2,697.2 Z" fill="#4a7212" stroke="#4a7212" stroke-width="1.3" stroke-linejoin="round"/>
<path d="M1038.4,674.8 L1043.6,673.3 L1043.6,694.3 L1038.4,695.8 Z" fill="#4a7212" stroke="#4a7212" stroke-width="1.3" stroke-linejoin="round"/>
<path d="M1043.6,673.3 L1048.6,671.7 L1048.6,692.7 L1043.6,694.3 Z" fill="#4b7312" stroke="#4b7312" stroke-width="1.3" stroke-linejoin="round"/>
<path d="M1048.6,671.7 L1053.6,670.0 L1053.6,691.0 L1048.6,692.7 Z" fill="#4b7412" stroke="#4b7412" stroke-width="1.3" stroke-linejoin="round"/>
<path d="M1053.6,670.0 L1058.4,668.2 L1058.4,689.2 L1053.6,691.0 Z" fill="#4c7513" stroke="#4c7513" stroke-width="1.3" stroke-linejoin="round"/>
<path d="M1058.4,668.2 L1063.1,666.3 L1063.1,687.3 L1058.4,689.2 Z" fill="#4c7613" stroke="#4c7613" stroke-width="1.3" stroke-linejoin="round"/>
<path d="M1063.1,666.3 L1067.8,664.3 L1067.8,685.3 L1063.1,687.3 Z" fill="#4d7613" stroke="#4d7613" stroke-width="1.3" stroke-linejoin="round"/>
<path d="M1067.8,664.3 L1072.3,662.2 L1072.3,683.2 L1067.8,685.3 Z" fill="#4d7713" stroke="#4d7713" stroke-width="1.3" stroke-linejoin="round"/>
<path d="M1072.3,662.2 L1076.7,660.1 L1076.7,681.1 L1072.3,683.2 Z" fill="#4e7813" stroke="#4e7813" stroke-width="1.3" stroke-linejoin="round"/>
<path d="M1076.7,660.1 L1081.0,657.8 L1081.0,678.8 L1076.7,681.1 Z" fill="#4e7914" stroke="#4e7914" stroke-width="1.3" stroke-linejoin="round"/>
<path d="M1081.0,657.8 L1085.1,655.5 L1085.1,676.5 L1081.0,678.8 Z" fill="#4f7a14" stroke="#4f7a14" stroke-width="1.3" stroke-linejoin="round"/>
<path d="M1085.1,655.5 L1280.9,542.5 L1280.9,563.5 L1085.1,676.5 Z" fill="#4f7a14" stroke="#4f7a14" stroke-width="1.3" stroke-linejoin="round"/>
<path d="M658.2,553.0 L835.7,655.5 L839.9,657.8 L844.1,660.1 L848.5,662.2 L853.1,664.3 L857.7,666.3 L862.4,668.2 L867.3,670.0 L872.2,671.7 L877.3,673.3 L882.4,674.8 L887.6,676.2 L892.9,677.6 L898.3,678.8 L903.7,679.9 L909.2,680.9 L914.8,681.9 L920.4,682.7 L926.0,683.4 L931.7,684.0 L937.4,684.5 L943.1,684.8 L948.9,685.1 L954.7,685.3 L960.4,685.3 L966.2,685.3 L972.0,685.1 L977.7,684.8 L983.4,684.5 L989.2,684.0 L994.8,683.4 L1000.5,682.7 L1006.1,681.9 L1011.6,680.9 L1017.1,679.9 L1022.5,678.8 L1027.9,677.6 L1033.2,676.2 L1038.4,674.8 L1043.6,673.3 L1048.6,671.7 L1053.6,670.0 L1058.4,668.2 L1063.1,666.3 L1067.8,664.3 L1072.3,662.2 L1076.7,660.1 L1081.0,657.8 L1085.1,655.5 L1280.9,542.5 L1209.8,501.5 L1014.1,614.5 L1012.3,615.5 L1010.5,616.5 L1008.6,617.4 L1006.6,618.3 L1004.7,619.1 L1002.6,620.0 L1000.5,620.7 L998.4,621.5 L996.2,622.2 L994.0,622.8 L991.8,623.4 L989.5,624.0 L987.2,624.5 L984.8,625.0 L982.5,625.5 L980.1,625.8 L977.7,626.2 L975.2,626.5 L972.8,626.8 L970.3,627.0 L967.9,627.1 L965.4,627.2 L962.9,627.3 L960.4,627.3 L957.9,627.3 L955.5,627.2 L953.0,627.1 L950.5,627.0 L948.1,626.8 L945.6,626.5 L943.2,626.2 L940.8,625.8 L938.4,625.5 L936.0,625.0 L933.7,624.5 L931.4,624.0 L929.1,623.4 L926.8,622.8 L924.6,622.2 L922.5,621.5 L920.3,620.7 L918.2,620.0 L916.2,619.1 L914.2,618.3 L912.3,617.4 L910.4,616.5 L908.5,615.5 L906.7,614.5 L729.2,512.0 Z" fill="#97df2a"/>
<path d="M1436.6,679.9 L1436.4,683.4 L1436.4,700.4 L1436.6,696.9 Z" fill="#1a78c0" stroke="#1a78c0" stroke-width="1.3" stroke-linejoin="round"/>
<path d="M1436.4,683.4 L1435.9,686.8 L1435.9,703.8 L1436.4,700.4 Z" fill="#1a78c0" stroke="#1a78c0" stroke-width="1.3" stroke-linejoin="round"/>
<path d="M1435.9,686.8 L1435.2,690.2 L1435.2,707.2 L1435.9,703.8 Z" fill="#1a78c0" stroke="#1a78c0" stroke-width="1.3" stroke-linejoin="round"/>
<path d="M1435.2,690.2 L1434.3,693.6 L1434.3,710.6 L1435.2,707.2 Z" fill="#1a78c0" stroke="#1a78c0" stroke-width="1.3" stroke-linejoin="round"/>
<path d="M1434.3,693.6 L1433.3,697.0 L1433.3,714.0 L1434.3,710.6 Z" fill="#1a78c0" stroke="#1a78c0" stroke-width="1.3" stroke-linejoin="round"/>
<path d="M1433.3,697.0 L1432.0,700.3 L1432.0,717.3 L1433.3,714.0 Z" fill="#1a78c0" stroke="#1a78c0" stroke-width="1.3" stroke-linejoin="round"/>
<path d="M1432.0,700.3 L1430.5,703.7 L1430.5,720.7 L1432.0,717.3 Z" fill="#1a78c0" stroke="#1a78c0" stroke-width="1.3" stroke-linejoin="round"/>
<path d="M1430.5,703.7 L1428.9,707.0 L1428.9,724.0 L1430.5,720.7 Z" fill="#1a78c0" stroke="#1a78c0" stroke-width="1.3" stroke-linejoin="round"/>
<path d="M1428.9,707.0 L1427.1,710.3 L1427.1,727.3 L1428.9,724.0 Z" fill="#1a78c0" stroke="#1a78c0" stroke-width="1.3" stroke-linejoin="round"/>
<path d="M1427.1,710.3 L1425.1,713.5 L1425.1,730.5 L1427.1,727.3 Z" fill="#1a78c0" stroke="#1a78c0" stroke-width="1.3" stroke-linejoin="round"/>
<path d="M1425.1,713.5 L1422.9,716.7 L1422.9,733.7 L1425.1,730.5 Z" fill="#1a78c0" stroke="#1a78c0" stroke-width="1.3" stroke-linejoin="round"/>
<path d="M1422.9,716.7 L1420.5,719.8 L1420.5,736.8 L1422.9,733.7 Z" fill="#1a78c0" stroke="#1a78c0" stroke-width="1.3" stroke-linejoin="round"/>
<path d="M1420.5,719.8 L1418.0,722.9 L1418.0,739.9 L1420.5,736.8 Z" fill="#1a78c0" stroke="#1a78c0" stroke-width="1.3" stroke-linejoin="round"/>
<path d="M1418.0,722.9 L1415.3,726.0 L1415.3,743.0 L1418.0,739.9 Z" fill="#1a78c0" stroke="#1a78c0" stroke-width="1.3" stroke-linejoin="round"/>
<path d="M1415.3,726.0 L1412.4,729.0 L1412.4,746.0 L1415.3,743.0 Z" fill="#1a78c0" stroke="#1a78c0" stroke-width="1.3" stroke-linejoin="round"/>
<path d="M1412.4,729.0 L1409.3,731.9 L1409.3,748.9 L1412.4,746.0 Z" fill="#1a78c0" stroke="#1a78c0" stroke-width="1.3" stroke-linejoin="round"/>
<path d="M1409.3,731.9 L1406.1,734.8 L1406.1,751.8 L1409.3,748.9 Z" fill="#1a78c0" stroke="#1a78c0" stroke-width="1.3" stroke-linejoin="round"/>
<path d="M1406.1,734.8 L1402.7,737.7 L1402.7,754.7 L1406.1,751.8 Z" fill="#1a78c0" stroke="#1a78c0" stroke-width="1.3" stroke-linejoin="round"/>
<path d="M1402.7,737.7 L1399.2,740.4 L1399.2,757.4 L1402.7,754.7 Z" fill="#1a78c0" stroke="#1a78c0" stroke-width="1.3" stroke-linejoin="round"/>
<path d="M1399.2,740.4 L1395.5,743.1 L1395.5,760.1 L1399.2,757.4 Z" fill="#1a78c0" stroke="#1a78c0" stroke-width="1.3" stroke-linejoin="round"/>
<path d="M1395.5,743.1 L1391.6,745.7 L1391.6,762.7 L1395.5,760.1 Z" fill="#1a78c0" stroke="#1a78c0" stroke-width="1.3" stroke-linejoin="round"/>
<path d="M1391.6,745.7 L1387.6,748.3 L1387.6,765.3 L1391.6,762.7 Z" fill="#1a78c0" stroke="#1a78c0" stroke-width="1.3" stroke-linejoin="round"/>
<path d="M1387.6,748.3 L1383.5,750.8 L1383.5,767.8 L1387.6,765.3 Z" fill="#1a78c0" stroke="#1a78c0" stroke-width="1.3" stroke-linejoin="round"/>
<path d="M1383.5,750.8 L1265.7,818.8 L1265.7,835.8 L1383.5,767.8 Z" fill="#1a78c0" stroke="#1a78c0" stroke-width="1.3" stroke-linejoin="round"/>
<path d="M1265.7,818.8 L1194.2,777.5 L1194.2,794.5 L1265.7,835.8 Z" fill="#0f3452" stroke="#0f3452" stroke-width="1.3" stroke-linejoin="round"/>
<path d="M1335.7,675.0 L1335.5,673.4 L1335.5,690.4 L1335.7,692.0 Z" fill="#0f3452" stroke="#0f3452" stroke-width="1.3" stroke-linejoin="round"/>
<path d="M1335.5,673.4 L1335.3,671.9 L1335.3,688.9 L1335.5,690.4 Z" fill="#0f3452" stroke="#0f3452" stroke-width="1.3" stroke-linejoin="round"/>
<path d="M1335.3,671.9 L1335.0,670.4 L1335.0,687.4 L1335.3,688.9 Z" fill="#0f3452" stroke="#0f3452" stroke-width="1.3" stroke-linejoin="round"/>
<path d="M1335.0,670.4 L1334.6,668.9 L1334.6,685.9 L1335.0,687.4 Z" fill="#0f3452" stroke="#0f3452" stroke-width="1.3" stroke-linejoin="round"/>
<path d="M1334.6,668.9 L1334.2,667.4 L1334.2,684.4 L1334.6,685.9 Z" fill="#0f3452" stroke="#0f3452" stroke-width="1.3" stroke-linejoin="round"/>
<path d="M1334.2,667.4 L1333.6,665.9 L1333.6,682.9 L1334.2,684.4 Z" fill="#0f3452" stroke="#0f3452" stroke-width="1.3" stroke-linejoin="round"/>
<path d="M1333.6,665.9 L1332.9,664.4 L1332.9,681.4 L1333.6,682.9 Z" fill="#0f3452" stroke="#0f3452" stroke-width="1.3" stroke-linejoin="round"/>
<path d="M1332.9,664.4 L1332.2,663.0 L1332.2,680.0 L1332.9,681.4 Z" fill="#0f3452" stroke="#0f3452" stroke-width="1.3" stroke-linejoin="round"/>
<path d="M1332.2,663.0 L1331.4,661.5 L1331.4,678.5 L1332.2,680.0 Z" fill="#0f3452" stroke="#0f3452" stroke-width="1.3" stroke-linejoin="round"/>
<path d="M1331.4,661.5 L1330.5,660.1 L1330.5,677.1 L1331.4,678.5 Z" fill="#0f3452" stroke="#0f3452" stroke-width="1.3" stroke-linejoin="round"/>
<path d="M1330.5,660.1 L1329.6,658.6 L1329.6,675.6 L1330.5,677.1 Z" fill="#0f3452" stroke="#0f3452" stroke-width="1.3" stroke-linejoin="round"/>
<path d="M1329.6,658.6 L1328.5,657.2 L1328.5,674.2 L1329.6,675.6 Z" fill="#0f3452" stroke="#0f3452" stroke-width="1.3" stroke-linejoin="round"/>
<path d="M1328.5,657.2 L1327.4,655.9 L1327.4,672.9 L1328.5,674.2 Z" fill="#0f3452" stroke="#0f3452" stroke-width="1.3" stroke-linejoin="round"/>
<path d="M1327.4,655.9 L1326.2,654.5 L1326.2,671.5 L1327.4,672.9 Z" fill="#0f3452" stroke="#0f3452" stroke-width="1.3" stroke-linejoin="round"/>
<path d="M1326.2,654.5 L1324.9,653.2 L1324.9,670.2 L1326.2,671.5 Z" fill="#0f3452" stroke="#0f3452" stroke-width="1.3" stroke-linejoin="round"/>
<path d="M1324.9,653.2 L1323.5,651.9 L1323.5,668.9 L1324.9,670.2 Z" fill="#0f3452" stroke="#0f3452" stroke-width="1.3" stroke-linejoin="round"/>
<path d="M1323.5,651.9 L1322.1,650.6 L1322.1,667.6 L1323.5,668.9 Z" fill="#0f3452" stroke="#0f3452" stroke-width="1.3" stroke-linejoin="round"/>
<path d="M1322.1,650.6 L1320.6,649.3 L1320.6,666.3 L1322.1,667.6 Z" fill="#0f3452" stroke="#0f3452" stroke-width="1.3" stroke-linejoin="round"/>
<path d="M1320.6,649.3 L1319.0,648.1 L1319.0,665.1 L1320.6,666.3 Z" fill="#0f3452" stroke="#0f3452" stroke-width="1.3" stroke-linejoin="round"/>
<path d="M1319.0,648.1 L1317.4,646.9 L1317.4,663.9 L1319.0,665.1 Z" fill="#0f3452" stroke="#0f3452" stroke-width="1.3" stroke-linejoin="round"/>
<path d="M1317.4,646.9 L1315.6,645.7 L1315.6,662.7 L1317.4,663.9 Z" fill="#0f3452" stroke="#0f3452" stroke-width="1.3" stroke-linejoin="round"/>
<path d="M1315.6,645.7 L1313.9,644.6 L1313.9,661.6 L1315.6,662.7 Z" fill="#0f3452" stroke="#0f3452" stroke-width="1.3" stroke-linejoin="round"/>
<path d="M1313.9,644.6 L1312.0,643.5 L1312.0,660.5 L1313.9,661.6 Z" fill="#0f3452" stroke="#0f3452" stroke-width="1.3" stroke-linejoin="round"/>
<path d="M1312.0,643.5 L1195.1,576.0 L1195.1,593.0 L1312.0,660.5 Z" fill="#0f3452" stroke="#0f3452" stroke-width="1.3" stroke-linejoin="round"/>
<path d="M1266.6,534.8 L1383.5,602.2 L1387.6,604.7 L1391.6,607.3 L1395.5,609.9 L1399.2,612.6 L1402.7,615.3 L1406.1,618.2 L1409.3,621.1 L1412.4,624.0 L1415.3,627.0 L1418.0,630.1 L1420.5,633.2 L1422.9,636.3 L1425.1,639.5 L1427.1,642.7 L1428.9,646.0 L1430.5,649.3 L1432.0,652.7 L1433.3,656.0 L1434.3,659.4 L1435.2,662.8 L1435.9,666.2 L1436.4,669.6 L1436.6,673.1 L1436.7,676.5 L1436.6,679.9 L1436.4,683.4 L1435.9,686.8 L1435.2,690.2 L1434.3,693.6 L1433.3,697.0 L1432.0,700.3 L1430.5,703.7 L1428.9,707.0 L1427.1,710.3 L1425.1,713.5 L1422.9,716.7 L1420.5,719.8 L1418.0,722.9 L1415.3,726.0 L1412.4,729.0 L1409.3,731.9 L1406.1,734.8 L1402.7,737.7 L1399.2,740.4 L1395.5,743.1 L1391.6,745.7 L1387.6,748.3 L1383.5,750.8 L1265.7,818.8 L1194.2,777.5 L1312.0,709.5 L1313.9,708.4 L1315.6,707.3 L1317.4,706.1 L1319.0,704.9 L1320.6,703.7 L1322.1,702.4 L1323.5,701.1 L1324.9,699.8 L1326.2,698.5 L1327.4,697.1 L1328.5,695.8 L1329.6,694.4 L1330.5,692.9 L1331.4,691.5 L1332.2,690.0 L1332.9,688.6 L1333.6,687.1 L1334.2,685.6 L1334.6,684.1 L1335.0,682.6 L1335.3,681.1 L1335.5,679.6 L1335.7,678.0 L1335.7,676.5 L1335.7,675.0 L1335.5,673.4 L1335.3,671.9 L1335.0,670.4 L1334.6,668.9 L1334.2,667.4 L1333.6,665.9 L1332.9,664.4 L1332.2,663.0 L1331.4,661.5 L1330.5,660.1 L1329.6,658.6 L1328.5,657.2 L1327.4,655.9 L1326.2,654.5 L1324.9,653.2 L1323.5,651.9 L1322.1,650.6 L1320.6,649.3 L1319.0,648.1 L1317.4,646.9 L1315.6,645.7 L1313.9,644.6 L1312.0,643.5 L1195.1,576.0 Z" fill="#1a93e0"/>
<path d="M1125.0,817.5 L1292.1,914.0 L1292.1,935.0 L1125.0,838.5 Z" fill="#190e28" stroke="#190e28" stroke-width="1.3" stroke-linejoin="round"/>
<path d="M1292.1,914.0 L1296.7,916.6 L1296.7,937.6 L1292.1,935.0 Z" fill="#1a0e29" stroke="#1a0e29" stroke-width="1.3" stroke-linejoin="round"/>
<path d="M1296.7,916.6 L1301.5,919.1 L1301.5,940.1 L1296.7,937.6 Z" fill="#1b0f2b" stroke="#1b0f2b" stroke-width="1.3" stroke-linejoin="round"/>
<path d="M1301.5,919.1 L1306.4,921.5 L1306.4,942.5 L1301.5,940.1 Z" fill="#1c102c" stroke="#1c102c" stroke-width="1.3" stroke-linejoin="round"/>
<path d="M1306.4,921.5 L1311.5,923.8 L1311.5,944.8 L1306.4,942.5 Z" fill="#1d102e" stroke="#1d102e" stroke-width="1.3" stroke-linejoin="round"/>
<path d="M1311.5,923.8 L1316.7,926.0 L1316.7,947.0 L1311.5,944.8 Z" fill="#1e112f" stroke="#1e112f" stroke-width="1.3" stroke-linejoin="round"/>
<path d="M1316.7,926.0 L1322.0,928.2 L1322.0,949.2 L1316.7,947.0 Z" fill="#1f1231" stroke="#1f1231" stroke-width="1.3" stroke-linejoin="round"/>
<path d="M1322.0,928.2 L1327.4,930.2 L1327.4,951.2 L1322.0,949.2 Z" fill="#201333" stroke="#201333" stroke-width="1.3" stroke-linejoin="round"/>
<path d="M1327.4,930.2 L1332.9,932.1 L1332.9,953.1 L1327.4,951.2 Z" fill="#211334" stroke="#211334" stroke-width="1.3" stroke-linejoin="round"/>
<path d="M1332.9,932.1 L1338.6,933.9 L1338.6,954.9 L1332.9,953.1 Z" fill="#221436" stroke="#221436" stroke-width="1.3" stroke-linejoin="round"/>
<path d="M1338.6,933.9 L1344.3,935.6 L1344.3,956.6 L1338.6,954.9 Z" fill="#231538" stroke="#231538" stroke-width="1.3" stroke-linejoin="round"/>
<path d="M1344.3,935.6 L1350.2,937.2 L1350.2,958.2 L1344.3,956.6 Z" fill="#24153a" stroke="#24153a" stroke-width="1.3" stroke-linejoin="round"/>
<path d="M1350.2,937.2 L1356.1,938.7 L1356.1,959.7 L1350.2,958.2 Z" fill="#25163b" stroke="#25163b" stroke-width="1.3" stroke-linejoin="round"/>
<path d="M1356.1,938.7 L1362.1,940.0 L1362.1,961.0 L1356.1,959.7 Z" fill="#27173d" stroke="#27173d" stroke-width="1.3" stroke-linejoin="round"/>
<path d="M1362.1,940.0 L1368.2,941.3 L1368.2,962.3 L1362.1,961.0 Z" fill="#28183e" stroke="#28183e" stroke-width="1.3" stroke-linejoin="round"/>
<path d="M1368.2,941.3 L1374.3,942.4 L1374.3,963.4 L1368.2,962.3 Z" fill="#291840" stroke="#291840" stroke-width="1.3" stroke-linejoin="round"/>
<path d="M1374.3,942.4 L1380.5,943.5 L1380.5,964.5 L1374.3,963.4 Z" fill="#2a1942" stroke="#2a1942" stroke-width="1.3" stroke-linejoin="round"/>
<path d="M1380.5,943.5 L1386.8,944.4 L1386.8,965.4 L1380.5,964.5 Z" fill="#2b1a44" stroke="#2b1a44" stroke-width="1.3" stroke-linejoin="round"/>
<path d="M1386.8,944.4 L1393.1,945.2 L1393.1,966.2 L1386.8,965.4 Z" fill="#2c1a45" stroke="#2c1a45" stroke-width="1.3" stroke-linejoin="round"/>
<path d="M1393.1,945.2 L1399.4,945.8 L1399.4,966.8 L1393.1,966.2 Z" fill="#2d1b47" stroke="#2d1b47" stroke-width="1.3" stroke-linejoin="round"/>
<path d="M1399.4,945.8 L1405.8,946.4 L1405.8,967.4 L1399.4,966.8 Z" fill="#2e1c48" stroke="#2e1c48" stroke-width="1.3" stroke-linejoin="round"/>
<path d="M1405.8,946.4 L1412.2,946.8 L1412.2,967.8 L1405.8,967.4 Z" fill="#2f1d4a" stroke="#2f1d4a" stroke-width="1.3" stroke-linejoin="round"/>
<path d="M1412.2,946.8 L1418.6,947.1 L1418.6,968.1 L1412.2,967.8 Z" fill="#301d4c" stroke="#301d4c" stroke-width="1.3" stroke-linejoin="round"/>
<path d="M1418.6,947.1 L1425.1,947.3 L1425.1,968.3 L1418.6,968.1 Z" fill="#311e4d" stroke="#311e4d" stroke-width="1.3" stroke-linejoin="round"/>
<path d="M1425.1,947.3 L1431.5,947.3 L1431.5,968.3 L1425.1,968.3 Z" fill="#321f4f" stroke="#321f4f" stroke-width="1.3" stroke-linejoin="round"/>
<path d="M1431.5,947.3 L1438.0,947.3 L1438.0,968.3 L1431.5,968.3 Z" fill="#341f51" stroke="#341f51" stroke-width="1.3" stroke-linejoin="round"/>
<path d="M1438.0,947.3 L1444.4,947.1 L1444.4,968.1 L1438.0,968.3 Z" fill="#352052" stroke="#352052" stroke-width="1.3" stroke-linejoin="round"/>
<path d="M1444.4,947.1 L1450.9,946.8 L1450.9,967.8 L1444.4,968.1 Z" fill="#362154" stroke="#362154" stroke-width="1.3" stroke-linejoin="round"/>
<path d="M1450.9,946.8 L1457.3,946.4 L1457.3,967.4 L1450.9,967.8 Z" fill="#372156" stroke="#372156" stroke-width="1.3" stroke-linejoin="round"/>
<path d="M1457.3,946.4 L1463.7,945.8 L1463.7,966.8 L1457.3,967.4 Z" fill="#382257" stroke="#382257" stroke-width="1.3" stroke-linejoin="round"/>
<path d="M1463.7,945.8 L1470.0,945.2 L1470.0,966.2 L1463.7,966.8 Z" fill="#392359" stroke="#392359" stroke-width="1.3" stroke-linejoin="round"/>
<path d="M1470.0,945.2 L1476.3,944.4 L1476.3,965.4 L1470.0,966.2 Z" fill="#3a245b" stroke="#3a245b" stroke-width="1.3" stroke-linejoin="round"/>
<path d="M1476.3,944.4 L1482.6,943.5 L1482.6,964.5 L1476.3,965.4 Z" fill="#3b245c" stroke="#3b245c" stroke-width="1.3" stroke-linejoin="round"/>
<path d="M1482.6,943.5 L1488.8,942.4 L1488.8,963.4 L1482.6,964.5 Z" fill="#3c255e" stroke="#3c255e" stroke-width="1.3" stroke-linejoin="round"/>
<path d="M1488.8,942.4 L1494.9,941.3 L1494.9,962.3 L1488.8,963.4 Z" fill="#3d2660" stroke="#3d2660" stroke-width="1.3" stroke-linejoin="round"/>
<path d="M1494.9,941.3 L1501.0,940.0 L1501.0,961.0 L1494.9,962.3 Z" fill="#3e2661" stroke="#3e2661" stroke-width="1.3" stroke-linejoin="round"/>
<path d="M1501.0,940.0 L1507.0,938.7 L1507.0,959.7 L1501.0,961.0 Z" fill="#3f2763" stroke="#3f2763" stroke-width="1.3" stroke-linejoin="round"/>
<path d="M1507.0,938.7 L1512.9,937.2 L1512.9,958.2 L1507.0,959.7 Z" fill="#412865" stroke="#412865" stroke-width="1.3" stroke-linejoin="round"/>
<path d="M1512.9,937.2 L1518.8,935.6 L1518.8,956.6 L1512.9,958.2 Z" fill="#422966" stroke="#422966" stroke-width="1.3" stroke-linejoin="round"/>
<path d="M1518.8,935.6 L1524.5,933.9 L1524.5,954.9 L1518.8,956.6 Z" fill="#432968" stroke="#432968" stroke-width="1.3" stroke-linejoin="round"/>
<path d="M1524.5,933.9 L1530.1,932.1 L1530.1,953.1 L1524.5,954.9 Z" fill="#442a6a" stroke="#442a6a" stroke-width="1.3" stroke-linejoin="round"/>
<path d="M1530.1,932.1 L1535.7,930.2 L1535.7,951.2 L1530.1,953.1 Z" fill="#452b6c" stroke="#452b6c" stroke-width="1.3" stroke-linejoin="round"/>
<path d="M1535.7,930.2 L1541.1,928.2 L1541.1,949.2 L1535.7,951.2 Z" fill="#462b6d" stroke="#462b6d" stroke-width="1.3" stroke-linejoin="round"/>
<path d="M1541.1,928.2 L1546.4,926.0 L1546.4,947.0 L1541.1,949.2 Z" fill="#472c6f" stroke="#472c6f" stroke-width="1.3" stroke-linejoin="round"/>
<path d="M1546.4,926.0 L1551.6,923.8 L1551.6,944.8 L1546.4,947.0 Z" fill="#482d70" stroke="#482d70" stroke-width="1.3" stroke-linejoin="round"/>
<path d="M1551.6,923.8 L1556.6,921.5 L1556.6,942.5 L1551.6,944.8 Z" fill="#492e72" stroke="#492e72" stroke-width="1.3" stroke-linejoin="round"/>
<path d="M1556.6,921.5 L1561.6,919.1 L1561.6,940.1 L1556.6,942.5 Z" fill="#4a2e74" stroke="#4a2e74" stroke-width="1.3" stroke-linejoin="round"/>
<path d="M1561.6,919.1 L1566.3,916.6 L1566.3,937.6 L1561.6,940.1 Z" fill="#4b2f75" stroke="#4b2f75" stroke-width="1.3" stroke-linejoin="round"/>
<path d="M1566.3,916.6 L1571.0,914.0 L1571.0,935.0 L1566.3,937.6 Z" fill="#4c3077" stroke="#4c3077" stroke-width="1.3" stroke-linejoin="round"/>
<path d="M1571.0,914.0 L1681.0,850.5 L1681.0,871.5 L1571.0,935.0 Z" fill="#4d3078" stroke="#4d3078" stroke-width="1.3" stroke-linejoin="round"/>
<path d="M1125.0,817.5 L1292.1,914.0 L1296.7,916.6 L1301.5,919.1 L1306.4,921.5 L1311.5,923.8 L1316.7,926.0 L1322.0,928.2 L1327.4,930.2 L1332.9,932.1 L1338.6,933.9 L1344.3,935.6 L1350.2,937.2 L1356.1,938.7 L1362.1,940.0 L1368.2,941.3 L1374.3,942.4 L1380.5,943.5 L1386.8,944.4 L1393.1,945.2 L1399.4,945.8 L1405.8,946.4 L1412.2,946.8 L1418.6,947.1 L1425.1,947.3 L1431.5,947.3 L1438.0,947.3 L1444.4,947.1 L1450.9,946.8 L1457.3,946.4 L1463.7,945.8 L1470.0,945.2 L1476.3,944.4 L1482.6,943.5 L1488.8,942.4 L1494.9,941.3 L1501.0,940.0 L1507.0,938.7 L1512.9,937.2 L1518.8,935.6 L1524.5,933.9 L1530.1,932.1 L1535.7,930.2 L1541.1,928.2 L1546.4,926.0 L1551.6,923.8 L1556.6,921.5 L1561.6,919.1 L1566.3,916.6 L1571.0,914.0 L1681.0,850.5 L1611.7,810.5 L1501.7,874.0 L1499.4,875.3 L1496.9,876.6 L1494.5,877.8 L1491.9,878.9 L1489.3,880.1 L1486.7,881.1 L1483.9,882.1 L1481.1,883.1 L1478.3,884.0 L1475.4,884.9 L1472.5,885.7 L1469.5,886.4 L1466.5,887.1 L1463.4,887.7 L1460.3,888.3 L1457.2,888.8 L1454.1,889.3 L1450.9,889.7 L1447.7,890.0 L1444.5,890.3 L1441.3,890.5 L1438.0,890.7 L1434.8,890.7 L1431.5,890.8 L1428.3,890.7 L1425.1,890.7 L1421.8,890.5 L1418.6,890.3 L1415.4,890.0 L1412.2,889.7 L1409.0,889.3 L1405.9,888.8 L1402.7,888.3 L1399.7,887.7 L1396.6,887.1 L1393.6,886.4 L1390.6,885.7 L1387.7,884.9 L1384.8,884.0 L1381.9,883.1 L1379.2,882.1 L1376.4,881.1 L1373.8,880.1 L1371.1,878.9 L1368.6,877.8 L1366.1,876.6 L1363.7,875.3 L1361.4,874.0 L1194.2,777.5 Z" fill="#6e4e9b"/>
</g>
<g id="tops">

</g>
<!-- shadows on road -->
<path d="M486,290 L522,282 L577,311 L577,318 L548,322 Z" fill="#c9424a"/>
<!-- flag disc -->
<defs>
<linearGradient id="discside" x1="0" x2="1" y1="0" y2="0">
<stop offset="0" stop-color="#8c8c8c"/><stop offset="0.55" stop-color="#8a8a8a"/><stop offset="0.64" stop-color="#c4c4c4"/><stop offset="0.74" stop-color="#dcdcdc"/><stop offset="1" stop-color="#cfcfcf"/>
</linearGradient>
</defs>
<ellipse cx="237.5" cy="220.5" rx="64.5" ry="37.5" fill="url(#discside)"/>
<rect x="173" y="200.5" width="129" height="20" fill="url(#discside)"/>
<ellipse cx="237.5" cy="200.5" rx="64.5" ry="37.5" fill="#e3e3e3"/>
<ellipse cx="240" cy="200" rx="26" ry="15" fill="#e8e8e8"/>
<path d="M218,202 L228,196.5 L253,196.5 L263,202 L263,205 L253,211 L228,211 L218,205 Z" fill="#c9c9c9"/>
<path d="M218,202 L228,196.5 L253,196.5 L263,202 L253,208 L228,208 Z" fill="#e4e4e4"/>
<rect x="233.3" y="74" width="13.4" height="124" rx="6" fill="#b9b9b9"/>
<rect x="235" y="76" width="5" height="120" fill="#c4c4c4"/>
<!-- flag -->
<path d="M246.7,85 L309,48 L319,53 L319,111 L246.7,152 Z" fill="#ef3a3d"/>
<path d="M300,53 L309,48 L319,53 L310,58 Z" fill="#f45a58"/>
<path d="M313,50.5 L319,53 L319,111 L313,114 Z" fill="#e33236"/>

<!-- man (top) -->
<g id="man1">
<path d="M497,186 L512,190 L493,222 L488,229 L481,226 L485,212 Z" fill="#2c4466"/>
<path d="M477,229 L484,226 L490,234 L489,251 L482,250 L478,240 Z" fill="#6ba0ea"/>
<path d="M503,186 L528,186 L524,215 L521,266 L512,266 L510,232 L505,210 Z" fill="#3b5578"/>
<path d="M512,265 L520,265 L522,275 L513,274 Z" fill="#6ba0ea"/>
<path d="M489,160 L535,160 L528,191 L498,191 Z" fill="#3b5578"/>
<path d="M487,96 Q489,85 503,83 L522,84 Q535,86 536,96 L536,165 Q512,172 487,167 Z" fill="#5b95e0"/>
<path d="M507,68 L531,66 L532,90 L520,94 L512,92 Z" fill="#f4c2a6"/>
<path d="M503,70 Q502,52 520,51 Q535,52 535,63 L531,67 L512,66 L510,80 L505,82 Z" fill="#3a3c40"/>
<path d="M511,111 L534,97 L572,117 L570,123 L567,167 L555,173 L543,166 L518,140 Z" fill="#111"/>
<path d="M548,132 L572,117 L567,167 L555,173 Z" fill="#0a0a0a"/>
<path d="M536,100 L540,91 L552,93 L560,106" fill="none" stroke="#111" stroke-width="4" stroke-linejoin="round"/>
<g fill="#e6e6e6">
<ellipse cx="541" cy="107" rx="1.3" ry="1.8"/><ellipse cx="547" cy="110" rx="1.3" ry="1.8"/><ellipse cx="553" cy="113" rx="1.3" ry="1.8"/><ellipse cx="559" cy="116" rx="1.3" ry="1.8"/>
<ellipse cx="542" cy="114" rx="1.3" ry="1.8"/><ellipse cx="548" cy="117" rx="1.3" ry="1.8"/><ellipse cx="554" cy="120" rx="1.3" ry="1.8"/><ellipse cx="560" cy="123" rx="1.3" ry="1.8"/>
<ellipse cx="543" cy="121" rx="1.3" ry="1.8"/><ellipse cx="549" cy="124" rx="1.3" ry="1.8"/><ellipse cx="555" cy="127" rx="1.3" ry="1.8"/>
<ellipse cx="530" cy="104" rx="1.1" ry="1.6"/><ellipse cx="524" cy="108" rx="1.1" ry="1.6"/>
</g>
<g fill="#5b8fe0"><circle cx="522" cy="116" r="1"/><circle cx="527" cy="113" r="1"/><circle cx="520" cy="123" r="1"/></g>
<path d="M537,150 Q545,145 554,150 L556,160 Q548,168 540,164 Z" fill="#f4c2a6"/>
</g>

<!-- small crate on red road -->
<g id="crate1">
<path d="M514,237 L578,272 L577,311 L522,283 Z" fill="#2a58c0"/>
<path d="M578,272 L676,211 L670,259 L577,311 Z" fill="#3470d2"/>
<path d="M514,237 L614,178 L676,211 L578,272 Z" fill="#2f6fd8"/>
<path d="M522,238 L612,185 L667,213 L578,265 Z" fill="#3270d6"/>
<path d="M522,238 L612,185 L612,195 L535,240 L560,255 L578,265 Z" fill="#3b7be0"/>
<path d="M612,186 L666,213 L655,219 L612,196 Z" fill="#3f80e4"/>
<path d="M553,218 L608,182 L621,184 L652,204 L654,227 L578,266 L561,260 Z" fill="#111"/>
<path d="M608,184 L622,180 L642,196" fill="none" stroke="#111" stroke-width="4"/>
<g fill="#4f80d8">
<circle cx="612" cy="195" r="1.2"/><circle cx="618" cy="199" r="1.2"/><circle cx="624" cy="203" r="1.2"/><circle cx="630" cy="207" r="1.2"/><circle cx="636" cy="211" r="1.2"/><circle cx="642" cy="215" r="1.2"/>
<circle cx="614" cy="202" r="1.2"/><circle cx="620" cy="206" r="1.2"/><circle cx="626" cy="210" r="1.2"/><circle cx="632" cy="214" r="1.2"/><circle cx="638" cy="218" r="1.2"/>
<circle cx="566" cy="216" r="1.2"/><circle cx="572" cy="212" r="1.2"/><circle cx="578" cy="208" r="1.2"/><circle cx="566" cy="226" r="1.2"/><circle cx="572" cy="222" r="1.2"/>
</g>
<path d="M578,272 L676,211 L676,217 L578,278 Z" fill="#2f6ad0"/>
<path d="M514,237 L578,272 L578,278 L515,243 Z" fill="#2d62cc"/>
</g>

<!-- large crate -->
<path d="M472,492 L530,466 L619,531 L610,553 L548,543 Z" fill="#d3d3d3"/>
<polygon points="513.0,407.0 619.0,466.0 615.5,529.0 529.0,478.0" fill="#2b5cc2"/>
<polygon points="519.0,425.0 532.0,432.0 540.0,478.0 531.0,478.0" fill="#3068cc"/>
<polygon points="619.0,466.0 783.0,367.0 773.0,442.0 615.5,529.0" fill="#3169cc"/>
<polygon points="513.0,407.0 680.0,309.0 783.0,367.0 619.0,466.0" fill="#3579dc"/>
<polygon points="536.0,402.0 675.0,320.0 772.0,373.0 624.0,458.0" fill="#2a60c6"/>
<polygon points="536.0,402.0 675.0,320.0 690.0,329.0 552.0,410.0" fill="#3a78dc"/>
<polygon points="748.0,358.0 772.0,373.0 760.0,380.0 744.0,368.0" fill="#3f80e4"/>
<polygon points="536.0,398.0 618.0,444.0 618.0,462.0 536.0,416.0" fill="#121212"/>
<polygon points="618.0,444.0 750.0,366.0 750.0,384.0 618.0,462.0" fill="#0d0d0d"/>
<ellipse cx="622.7" cy="449.2" rx="1.1" ry="1.9" fill="#5aa0c8"/>
<ellipse cx="632.1" cy="443.6" rx="1.1" ry="1.9" fill="#5aa0c8"/>
<ellipse cx="641.6" cy="438.1" rx="1.1" ry="1.9" fill="#5aa0c8"/>
<ellipse cx="651.0" cy="432.5" rx="1.1" ry="1.9" fill="#5aa0c8"/>
<ellipse cx="660.4" cy="426.9" rx="1.1" ry="1.9" fill="#5aa0c8"/>
<ellipse cx="669.9" cy="421.4" rx="1.1" ry="1.9" fill="#f08a30"/>
<ellipse cx="679.3" cy="415.8" rx="1.1" ry="1.9" fill="#f08a30"/>
<ellipse cx="688.7" cy="410.2" rx="1.1" ry="1.9" fill="#f08a30"/>
<ellipse cx="698.1" cy="404.6" rx="1.1" ry="1.9" fill="#f08a30"/>
<ellipse cx="707.6" cy="399.1" rx="1.1" ry="1.9" fill="#f08a30"/>
<ellipse cx="717.0" cy="393.5" rx="1.1" ry="1.9" fill="#f08a30"/>
<ellipse cx="726.4" cy="387.9" rx="1.1" ry="1.9" fill="#f08a30"/>
<ellipse cx="735.9" cy="382.4" rx="1.1" ry="1.9" fill="#f08a30"/>
<ellipse cx="745.3" cy="376.8" rx="1.1" ry="1.9" fill="#f08a30"/>
<polygon points="536.0,398.0 668.0,320.0 750.0,366.0 618.0,444.0" fill="#161616"/>
<polygon points="590.1,369.6 624.4,349.3 693.3,388.0 659.0,408.2" fill="#f0b830"/>
<polygon points="624.5,386.9 658.8,366.6 693.3,388.0 659.0,408.2" fill="#e2a422"/>
<circle cx="639.2" cy="340.4" r="2.8" fill="#7b3aa8"/>
<circle cx="643.2" cy="345.7" r="2.8" fill="#7b3aa8"/>
<circle cx="649.6" cy="337.1" r="2.8" fill="#7b3aa8"/>
<circle cx="655.7" cy="342.1" r="2.8" fill="#7b3aa8"/>
<circle cx="660.8" cy="334.3" r="2.6" fill="#7b3aa8"/>
<circle cx="654.5" cy="347.5" r="2.6" fill="#7b3aa8"/>
<ellipse cx="645.7" cy="327.9" rx="6" ry="3.5" fill="#5aae3a"/>
<circle cx="674.1" cy="338.7" r="6.5" fill="#f7d531"/>
<circle cx="672.8" cy="347.1" r="6.5" fill="#f7d531"/>
<circle cx="689.1" cy="344.1" r="6.5" fill="#f7d531"/>
<circle cx="688.5" cy="333.1" r="6.5" fill="#f7d531"/>
<circle cx="703.7" cy="340.1" r="6.5" fill="#f7d531"/>
<circle cx="665.5" cy="355.2" r="6.5" fill="#f7d531"/>
<circle cx="681.9" cy="365.4" r="6.2" fill="#f28a2a"/>
<circle cx="700.6" cy="363.7" r="6.2" fill="#ee6040"/>
<circle cx="696.6" cy="373.6" r="6.2" fill="#ee6040"/>
<circle cx="708.9" cy="353.2" r="6.2" fill="#ee6040"/>
<circle cx="719.4" cy="362.1" r="6.2" fill="#ee6040"/>
<circle cx="715.4" cy="372.0" r="6.2" fill="#ee6040"/>
<circle cx="693.1" cy="354.9" r="6.2" fill="#f28a2a"/>
<circle cx="735.2" cy="360.3" r="6.2" fill="#ee6040"/>
<rect x="572.4" y="370.5" width="16" height="22" fill="#5aa8cc" opacity="0.92"/>
<rect x="578.4" y="372.5" width="4" height="18" fill="#9fd6ec" opacity="0.8"/>
<ellipse cx="580.4" cy="370.5" rx="8" ry="4.2" fill="#8ccbe6"/>
<ellipse cx="580.4" cy="370.5" rx="5.8" ry="2.8" fill="#3f8fb8"/>
<rect x="563.2" y="383.6" width="16" height="22" fill="#5aa8cc" opacity="0.92"/>
<rect x="569.2" y="385.6" width="4" height="18" fill="#9fd6ec" opacity="0.8"/>
<ellipse cx="571.2" cy="383.6" rx="8" ry="4.2" fill="#8ccbe6"/>
<ellipse cx="571.2" cy="383.6" rx="5.8" ry="2.8" fill="#3f8fb8"/>
<rect x="594.1" y="384.2" width="16" height="22" fill="#5aa8cc" opacity="0.92"/>
<rect x="600.1" y="386.2" width="4" height="18" fill="#9fd6ec" opacity="0.8"/>
<ellipse cx="602.1" cy="384.2" rx="8" ry="4.2" fill="#8ccbe6"/>
<ellipse cx="602.1" cy="384.2" rx="5.8" ry="2.8" fill="#3f8fb8"/>
<rect x="584.8" y="397.2" width="16" height="22" fill="#5aa8cc" opacity="0.92"/>
<rect x="590.8" y="399.2" width="4" height="18" fill="#9fd6ec" opacity="0.8"/>
<ellipse cx="592.8" cy="397.2" rx="8" ry="4.2" fill="#8ccbe6"/>
<ellipse cx="592.8" cy="397.2" rx="5.8" ry="2.8" fill="#3f8fb8"/>
<rect x="614.4" y="398.6" width="16" height="22" fill="#5aa8cc" opacity="0.92"/>
<rect x="620.4" y="400.6" width="4" height="18" fill="#9fd6ec" opacity="0.8"/>
<ellipse cx="622.4" cy="398.6" rx="8" ry="4.2" fill="#8ccbe6"/>
<ellipse cx="622.4" cy="398.6" rx="5.8" ry="2.8" fill="#3f8fb8"/>
<path d="M544.1,397.0 C546.1,403.7 611.9,401.7 617.9,438.4" fill="none" stroke="#111" stroke-width="4.5" stroke-linecap="round"/>
<path d="M581.0,375.1 C583.0,381.8 648.8,379.8 654.8,416.5" fill="none" stroke="#111" stroke-width="4.5" stroke-linecap="round"/>
<path d="M587.6,371.2 C589.6,377.9 655.4,375.9 661.4,412.6" fill="none" stroke="#111" stroke-width="4.5" stroke-linecap="round"/>
<path d="M624.6,349.4 C626.6,356.1 692.4,354.1 698.4,390.8" fill="none" stroke="#111" stroke-width="4.5" stroke-linecap="round"/>
<path d="M631.2,345.5 C633.2,352.2 699.0,350.2 705.0,386.9" fill="none" stroke="#111" stroke-width="4.5" stroke-linecap="round"/>
<path d="M668.1,323.6 C670.1,330.3 735.9,328.3 741.9,365.0" fill="none" stroke="#111" stroke-width="4.5" stroke-linecap="round"/>
<polygon points="513.0,407.0 619.0,466.0 619.0,474.0 514.0,415.0" fill="#3572d8"/>
<polygon points="619.0,466.0 783.0,367.0 783.0,375.0 619.0,474.0" fill="#3b7de0"/>
<polygon points="513.0,407.0 619.0,466.0 624.0,458.0 536.0,402.0" fill="#3a7ce0"/>
<polygon points="619.0,466.0 783.0,367.0 772.0,373.0 624.0,458.0" fill="#3a7ce0"/>
<!-- rays & middle basket -->
<polygon points="859.6,468.5 913.8,437.7 1016.0,490.9 1007.4,614.3 964.9,627.0 872.3,578.1" fill="#111"/>
<polygon points="966.0,518.5 1016.0,490.9 1007.4,614.3 964.9,627.0" fill="#0b0b0b"/>
<ellipse cx="868.6" cy="490.3" rx="2.2" ry="4.4" transform="rotate(30 868.6 490.3)" fill="#f07a26"/>
<ellipse cx="882.3" cy="496.8" rx="2.2" ry="4.4" transform="rotate(30 882.3 496.8)" fill="#f07a26"/>
<ellipse cx="896.0" cy="503.4" rx="2.2" ry="4.4" transform="rotate(30 896.0 503.4)" fill="#f07a26"/>
<ellipse cx="909.7" cy="509.9" rx="2.2" ry="4.4" transform="rotate(30 909.7 509.9)" fill="#f0c030"/>
<ellipse cx="923.4" cy="516.5" rx="2.2" ry="4.4" transform="rotate(30 923.4 516.5)" fill="#f0c030"/>
<ellipse cx="937.1" cy="523.0" rx="2.2" ry="4.4" transform="rotate(30 937.1 523.0)" fill="#f07a26"/>
<ellipse cx="950.8" cy="529.6" rx="2.2" ry="4.4" transform="rotate(30 950.8 529.6)" fill="#f07a26"/>
<ellipse cx="876.7" cy="506.7" rx="2.2" ry="4.4" transform="rotate(30 876.7 506.7)" fill="#f07a26"/>
<ellipse cx="890.2" cy="513.3" rx="2.2" ry="4.4" transform="rotate(30 890.2 513.3)" fill="#f07a26"/>
<ellipse cx="903.7" cy="519.8" rx="2.2" ry="4.4" transform="rotate(30 903.7 519.8)" fill="#f07a26"/>
<ellipse cx="917.2" cy="526.3" rx="2.2" ry="4.4" transform="rotate(30 917.2 526.3)" fill="#f0c030"/>
<ellipse cx="930.6" cy="532.9" rx="2.2" ry="4.4" transform="rotate(30 930.6 532.9)" fill="#f0c030"/>
<ellipse cx="944.1" cy="539.4" rx="2.2" ry="4.4" transform="rotate(30 944.1 539.4)" fill="#f07a26"/>
<ellipse cx="957.6" cy="546.0" rx="2.2" ry="4.4" transform="rotate(30 957.6 546.0)" fill="#f07a26"/>
<ellipse cx="871.4" cy="516.7" rx="2.2" ry="4.4" transform="rotate(30 871.4 516.7)" fill="#5a2380"/>
<ellipse cx="884.7" cy="523.2" rx="2.2" ry="4.4" transform="rotate(30 884.7 523.2)" fill="#5a2380"/>
<ellipse cx="897.9" cy="529.7" rx="2.2" ry="4.4" transform="rotate(30 897.9 529.7)" fill="#f07a26"/>
<ellipse cx="911.2" cy="536.2" rx="2.2" ry="4.4" transform="rotate(30 911.2 536.2)" fill="#f0c030"/>
<ellipse cx="924.5" cy="542.7" rx="2.2" ry="4.4" transform="rotate(30 924.5 542.7)" fill="#f0c030"/>
<ellipse cx="937.7" cy="549.3" rx="2.2" ry="4.4" transform="rotate(30 937.7 549.3)" fill="#f07a26"/>
<ellipse cx="951.0" cy="555.8" rx="2.2" ry="4.4" transform="rotate(30 951.0 555.8)" fill="#f07a26"/>
<ellipse cx="879.4" cy="533.1" rx="2.2" ry="4.4" transform="rotate(30 879.4 533.1)" fill="#5a2380"/>
<ellipse cx="892.4" cy="539.6" rx="2.2" ry="4.4" transform="rotate(30 892.4 539.6)" fill="#5a2380"/>
<ellipse cx="905.4" cy="546.1" rx="2.2" ry="4.4" transform="rotate(30 905.4 546.1)" fill="#f07a26"/>
<ellipse cx="918.5" cy="552.6" rx="2.2" ry="4.4" transform="rotate(30 918.5 552.6)" fill="#f0c030"/>
<ellipse cx="931.5" cy="559.1" rx="2.2" ry="4.4" transform="rotate(30 931.5 559.1)" fill="#f0c030"/>
<ellipse cx="944.6" cy="565.6" rx="2.2" ry="4.4" transform="rotate(30 944.6 565.6)" fill="#f07a26"/>
<ellipse cx="957.6" cy="572.1" rx="2.2" ry="4.4" transform="rotate(30 957.6 572.1)" fill="#f07a26"/>
<ellipse cx="874.3" cy="543.0" rx="2.2" ry="4.4" transform="rotate(30 874.3 543.0)" fill="#5a2380"/>
<ellipse cx="887.1" cy="549.5" rx="2.2" ry="4.4" transform="rotate(30 887.1 549.5)" fill="#5a2380"/>
<ellipse cx="899.9" cy="556.0" rx="2.2" ry="4.4" transform="rotate(30 899.9 556.0)" fill="#f07a26"/>
<ellipse cx="912.7" cy="562.5" rx="2.2" ry="4.4" transform="rotate(30 912.7 562.5)" fill="#f07a26"/>
<ellipse cx="925.5" cy="569.0" rx="2.2" ry="4.4" transform="rotate(30 925.5 569.0)" fill="#f07a26"/>
<ellipse cx="938.4" cy="575.5" rx="2.2" ry="4.4" transform="rotate(30 938.4 575.5)" fill="#f07a26"/>
<ellipse cx="951.2" cy="582.0" rx="2.2" ry="4.4" transform="rotate(30 951.2 582.0)" fill="#f07a26"/>
<ellipse cx="882.0" cy="559.5" rx="2.2" ry="4.4" transform="rotate(30 882.0 559.5)" fill="#222"/>
<ellipse cx="894.6" cy="565.9" rx="2.2" ry="4.4" transform="rotate(30 894.6 565.9)" fill="#222"/>
<ellipse cx="907.2" cy="572.4" rx="2.2" ry="4.4" transform="rotate(30 907.2 572.4)" fill="#222"/>
<ellipse cx="919.8" cy="578.9" rx="2.2" ry="4.4" transform="rotate(30 919.8 578.9)" fill="#f07a26"/>
<ellipse cx="932.4" cy="585.3" rx="2.2" ry="4.4" transform="rotate(30 932.4 585.3)" fill="#f07a26"/>
<ellipse cx="945.0" cy="591.8" rx="2.2" ry="4.4" transform="rotate(30 945.0 591.8)" fill="#f07a26"/>
<ellipse cx="957.6" cy="598.3" rx="2.2" ry="4.4" transform="rotate(30 957.6 598.3)" fill="#f07a26"/>
<ellipse cx="877.1" cy="569.4" rx="2.2" ry="4.4" transform="rotate(30 877.1 569.4)" fill="#3a2a1a"/>
<ellipse cx="889.5" cy="575.9" rx="2.2" ry="4.4" transform="rotate(30 889.5 575.9)" fill="#3a2a1a"/>
<ellipse cx="901.9" cy="582.3" rx="2.2" ry="4.4" transform="rotate(30 901.9 582.3)" fill="#3a2a1a"/>
<ellipse cx="914.3" cy="588.8" rx="2.2" ry="4.4" transform="rotate(30 914.3 588.8)" fill="#3a2a1a"/>
<ellipse cx="926.6" cy="595.2" rx="2.2" ry="4.4" transform="rotate(30 926.6 595.2)" fill="#3a2a1a"/>
<ellipse cx="939.0" cy="601.7" rx="2.2" ry="4.4" transform="rotate(30 939.0 601.7)" fill="#f07a26"/>
<ellipse cx="951.4" cy="608.1" rx="2.2" ry="4.4" transform="rotate(30 951.4 608.1)" fill="#f07a26"/>
<ellipse cx="977.1" cy="527.1" rx="2.4" ry="4.6" transform="rotate(20 977.1 527.1)" fill="#f07a26"/>
<ellipse cx="997.5" cy="516.4" rx="2.4" ry="4.6" transform="rotate(20 997.5 516.4)" fill="#f07a26"/>
<ellipse cx="983.8" cy="536.0" rx="2.4" ry="4.6" transform="rotate(20 983.8 536.0)" fill="#f07a26"/>
<ellipse cx="1003.9" cy="526.1" rx="2.4" ry="4.6" transform="rotate(20 1003.9 526.1)" fill="#f07a26"/>
<ellipse cx="976.5" cy="552.0" rx="2.4" ry="4.6" transform="rotate(20 976.5 552.0)" fill="#f07a26"/>
<ellipse cx="996.2" cy="542.7" rx="2.4" ry="4.6" transform="rotate(20 996.2 542.7)" fill="#f07a26"/>
<ellipse cx="982.9" cy="561.4" rx="2.4" ry="4.6" transform="rotate(20 982.9 561.4)" fill="#f07a26"/>
<ellipse cx="1002.3" cy="552.8" rx="2.4" ry="4.6" transform="rotate(20 1002.3 552.8)" fill="#f07a26"/>
<ellipse cx="975.8" cy="576.8" rx="2.4" ry="4.6" transform="rotate(20 975.8 576.8)" fill="#f07a26"/>
<ellipse cx="994.9" cy="568.9" rx="2.4" ry="4.6" transform="rotate(20 994.9 568.9)" fill="#f07a26"/>
<ellipse cx="982.1" cy="586.7" rx="2.4" ry="4.6" transform="rotate(20 982.1 586.7)" fill="#f07a26"/>
<ellipse cx="1000.7" cy="579.5" rx="2.4" ry="4.6" transform="rotate(20 1000.7 579.5)" fill="#f07a26"/>
<ellipse cx="975.2" cy="601.7" rx="2.4" ry="4.6" transform="rotate(20 975.2 601.7)" fill="#f07a26"/>
<ellipse cx="993.5" cy="595.2" rx="2.4" ry="4.6" transform="rotate(20 993.5 595.2)" fill="#f07a26"/>
<ellipse cx="981.2" cy="612.1" rx="2.4" ry="4.6" transform="rotate(20 981.2 612.1)" fill="#f07a26"/>
<ellipse cx="999.2" cy="606.3" rx="2.4" ry="4.6" transform="rotate(20 999.2 606.3)" fill="#f07a26"/>
<path d="M890,436 L906,430 L924,438 L918,452 L896,452 Z" fill="#5aae3a"/>
<g fill="#7b3aa8"><circle cx="886" cy="452" r="3.6"/><circle cx="893" cy="449" r="3.6"/><circle cx="900" cy="451" r="3.6"/><circle cx="907" cy="453" r="3.6"/><circle cx="889" cy="459" r="3.6"/><circle cx="896" cy="457" r="3.6"/><circle cx="903" cy="459" r="3.6"/><circle cx="884" cy="466" r="3.6"/><circle cx="891" cy="465" r="3.6"/><circle cx="898" cy="466" r="3.6"/><circle cx="886" cy="472" r="3.6"/></g>
<g fill="#f6d12e"><circle cx="920" cy="456" r="8"/><circle cx="936" cy="455" r="8"/><circle cx="950" cy="463" r="8"/><circle cx="930" cy="470" r="8"/><circle cx="945" cy="476" r="8"/><circle cx="958" cy="480" r="7"/><circle cx="914" cy="470" r="6"/><circle cx="900" cy="474" r="5"/></g>
<g fill="#f07a26"><circle cx="903" cy="491" r="8"/><circle cx="918" cy="496" r="8"/><circle cx="934" cy="502" r="8"/><circle cx="948" cy="500" r="9"/></g>
<g fill="#ee5e48"><circle cx="966" cy="488" r="8"/><circle cx="981" cy="488" r="8"/><circle cx="996" cy="494" r="8"/><circle cx="1008" cy="496" r="6"/><circle cx="962" cy="505" r="8"/><circle cx="977" cy="503" r="8"/><circle cx="990" cy="507" r="6"/><circle cx="962" cy="518" r="5"/></g>
<g fill="none" stroke="#111" stroke-width="5" stroke-linejoin="round" stroke-linecap="round"><path d="M889,482 L898,444 L914,436 L931,452 L940,506"/><path d="M942,442 L957,434 L990,474"/></g>
<path d="M952,426 Q972,418 995,421 L1030,428 Q1038,436 1034,444 L1000,448 Q985,452 972,458 Q962,456 958,446 Q950,440 952,426 Z" fill="#f7c5b4"/>
<!-- shelves -->
<polygon points="1262,537 1278,546 1278,558 1262,551" fill="#1578c2"/>
<polygon points="1004,647 1032,630 1071,652 1040,672" fill="#6aa820" opacity="0.55"/>
<polygon points="1010,578 1036,562 1046,572 1046,586 1022,592" fill="#e2e2e2"/>
<polygon points="1004,725 1034,708 1044,718 1044,735 1016,740" fill="#e2e2e2"/>
<rect x="1211.5" y="385.0" width="5" height="360.0" fill="#4a5668" rx="2"/>
<rect x="1254.5" y="470.0" width="5" height="315.0" fill="#4a5668" rx="2"/>
<polygon points="1139,430 1214,387 1214,440 1139,482" fill="#dfe3e7"/>
<polygon points="1145.8,463.5 1190.0,489.0 1191.0,527.0 1149.8,498.5" fill="#2b5cc6"/>
<polygon points="1190.0,489.0 1274.9,440.0 1270.9,475.0 1191.0,527.0" fill="#3470d6"/>
<polygon points="1145.8,463.5 1230.7,414.5 1274.9,440.0 1190.0,489.0" fill="#3a7be2"/>
<polygon points="1156.2,463.5 1230.7,420.5 1264.5,440.0 1190.0,483.0" fill="#2a5fc8"/>
<polygon points="1161.4,463.5 1230.7,423.5 1261.0,441.0 1191.7,481.0" fill="#131313"/>
<polygon points="1168.2,459.6 1194.2,474.6 1208.0,466.6 1182.0,451.6" fill="#f06a4a"/>
<path d="M1175.9,457.2 Q1189.3,450.9 1202.7,472.7" fill="none" stroke="#111" stroke-width="3.4"/>
<polygon points="1191.3,446.3 1217.3,461.3 1231.1,453.3 1205.1,438.3" fill="#f06a4a"/>
<path d="M1198.9,443.8 Q1212.4,437.6 1225.8,459.3" fill="none" stroke="#111" stroke-width="3.4"/>
<polygon points="1214.4,432.9 1240.3,447.9 1254.2,439.9 1228.2,424.9" fill="#f06a4a"/>
<path d="M1222.0,430.5 Q1235.5,424.2 1248.9,446.0" fill="none" stroke="#111" stroke-width="3.4"/>
<polygon points="1145.8,463.5 1190.0,489.0 1190.0,494.0 1146.8,468.5" fill="#3672da"/>
<polygon points="1190.0,489.0 1274.9,440.0 1273.9,445.0 1190.0,494.0" fill="#3d7fe4"/>
<polygon points="1141.8,533.5 1186.0,559.0 1187.0,597.0 1145.8,568.5" fill="#2b5cc6"/>
<polygon points="1186.0,559.0 1270.9,510.0 1266.9,545.0 1187.0,597.0" fill="#3470d6"/>
<polygon points="1141.8,533.5 1226.7,484.5 1270.9,510.0 1186.0,559.0" fill="#3a7be2"/>
<polygon points="1152.2,533.5 1226.7,490.5 1260.5,510.0 1186.0,553.0" fill="#2a5fc8"/>
<polygon points="1157.4,533.5 1226.7,493.5 1257.0,511.0 1187.7,551.0" fill="#131313"/>
<polygon points="1164.2,529.6 1190.2,544.6 1204.0,536.6 1178.0,521.6" fill="#e6c233"/>
<path d="M1171.9,527.2 Q1185.3,520.9 1198.7,542.7" fill="none" stroke="#111" stroke-width="3.4"/>
<polygon points="1187.3,516.3 1213.3,531.3 1227.1,523.3 1201.1,508.3" fill="#e6c233"/>
<path d="M1194.9,513.8 Q1208.4,507.6 1221.8,529.3" fill="none" stroke="#111" stroke-width="3.4"/>
<polygon points="1210.4,502.9 1236.3,517.9 1250.2,509.9 1224.2,494.9" fill="#e6c233"/>
<path d="M1218.0,500.5 Q1231.5,494.2 1244.9,516.0" fill="none" stroke="#111" stroke-width="3.4"/>
<polygon points="1141.8,533.5 1186.0,559.0 1186.0,564.0 1142.8,538.5" fill="#3672da"/>
<polygon points="1186.0,559.0 1270.9,510.0 1269.9,515.0 1186.0,564.0" fill="#3d7fe4"/>
<polygon points="1141.8,614.5 1186.0,640.0 1187.0,678.0 1145.8,649.5" fill="#2b5cc6"/>
<polygon points="1186.0,640.0 1270.9,591.0 1266.9,626.0 1187.0,678.0" fill="#3470d6"/>
<polygon points="1141.8,614.5 1226.7,565.5 1270.9,591.0 1186.0,640.0" fill="#3a7be2"/>
<polygon points="1152.2,614.5 1226.7,571.5 1260.5,591.0 1186.0,634.0" fill="#2a5fc8"/>
<polygon points="1157.4,614.5 1226.7,574.5 1257.0,592.0 1187.7,632.0" fill="#131313"/>
<polygon points="1164.2,610.6 1190.2,625.6 1204.0,617.6 1178.0,602.6" fill="#4cc544"/>
<path d="M1171.9,608.2 Q1185.3,601.9 1198.7,623.7" fill="none" stroke="#111" stroke-width="3.4"/>
<polygon points="1187.3,597.3 1213.3,612.3 1227.1,604.3 1201.1,589.3" fill="#4cc544"/>
<path d="M1194.9,594.8 Q1208.4,588.6 1221.8,610.3" fill="none" stroke="#111" stroke-width="3.4"/>
<polygon points="1210.4,583.9 1236.3,598.9 1250.2,590.9 1224.2,575.9" fill="#4cc544"/>
<path d="M1218.0,581.5 Q1231.5,575.2 1244.9,597.0" fill="none" stroke="#111" stroke-width="3.4"/>
<polygon points="1141.8,614.5 1186.0,640.0 1186.0,645.0 1142.8,619.5" fill="#3672da"/>
<polygon points="1186.0,640.0 1270.9,591.0 1269.9,596.0 1186.0,645.0" fill="#3d7fe4"/>
<polygon points="1139.8,691.5 1184.0,717.0 1185.0,755.0 1143.8,726.5" fill="#2b5cc6"/>
<polygon points="1184.0,717.0 1268.9,668.0 1264.9,703.0 1185.0,755.0" fill="#3470d6"/>
<polygon points="1139.8,691.5 1224.7,642.5 1268.9,668.0 1184.0,717.0" fill="#3a7be2"/>
<polygon points="1150.2,691.5 1224.7,648.5 1258.5,668.0 1184.0,711.0" fill="#2a5fc8"/>
<polygon points="1155.4,691.5 1224.7,651.5 1255.0,669.0 1185.7,709.0" fill="#131313"/>
<polygon points="1162.2,687.6 1188.2,702.6 1202.0,694.6 1176.0,679.6" fill="#f2a22e"/>
<path d="M1169.9,685.2 Q1183.3,678.9 1196.7,700.7" fill="none" stroke="#111" stroke-width="3.4"/>
<polygon points="1185.3,674.3 1211.3,689.3 1225.1,681.3 1199.1,666.3" fill="#f2a22e"/>
<path d="M1192.9,671.8 Q1206.4,665.6 1219.8,687.3" fill="none" stroke="#111" stroke-width="3.4"/>
<polygon points="1208.4,660.9 1234.3,675.9 1248.2,667.9 1222.2,652.9" fill="#f2a22e"/>
<path d="M1216.0,658.5 Q1229.5,652.2 1242.9,674.0" fill="none" stroke="#111" stroke-width="3.4"/>
<polygon points="1139.8,691.5 1184.0,717.0 1184.0,722.0 1140.8,696.5" fill="#3672da"/>
<polygon points="1184.0,717.0 1268.9,668.0 1267.9,673.0 1184.0,722.0" fill="#3d7fe4"/>
<line x1="1138.0" y1="509.0" x2="1180.0" y2="533.0" stroke="#4a5668" stroke-width="4" stroke-linecap="round"/>
<line x1="1138.0" y1="579.0" x2="1180.0" y2="603.0" stroke="#4a5668" stroke-width="4" stroke-linecap="round"/>
<line x1="1138.0" y1="660.0" x2="1180.0" y2="684.0" stroke="#4a5668" stroke-width="4" stroke-linecap="round"/>
<line x1="1138.0" y1="737.0" x2="1180.0" y2="761.0" stroke="#4a5668" stroke-width="4" stroke-linecap="round"/>
<rect x="1135.5" y="428.0" width="5" height="342.0" fill="#4a5668" rx="2"/>
<rect x="1177.5" y="470.0" width="5" height="320.0" fill="#4a5668" rx="2"/>
<rect x="1107.5" y="451.0" width="5" height="349.0" fill="#4a5668" rx="2"/>
<rect x="1150.5" y="540.0" width="5" height="290.0" fill="#4a5668" rx="2"/>
<polygon points="1036,496 1110,453 1110,505 1036,548" fill="#dfe3e7"/>
<polygon points="1039.8,530.5 1084.0,556.0 1085.0,594.0 1043.8,565.5" fill="#2b5cc6"/>
<polygon points="1084.0,556.0 1168.9,507.0 1164.9,542.0 1085.0,594.0" fill="#3470d6"/>
<polygon points="1039.8,530.5 1124.7,481.5 1168.9,507.0 1084.0,556.0" fill="#3a7be2"/>
<polygon points="1050.2,530.5 1124.7,487.5 1158.5,507.0 1084.0,550.0" fill="#2a5fc8"/>
<polygon points="1055.4,530.5 1124.7,490.5 1155.0,508.0 1085.7,548.0" fill="#131313"/>
<polygon points="1062.2,526.6 1088.2,541.6 1102.0,533.6 1076.0,518.6" fill="#f06a4a"/>
<path d="M1069.9,524.2 Q1083.3,517.9 1096.7,539.7" fill="none" stroke="#111" stroke-width="3.4"/>
<polygon points="1085.3,513.3 1111.3,528.3 1125.1,520.3 1099.1,505.3" fill="#f06a4a"/>
<path d="M1092.9,510.8 Q1106.4,504.6 1119.8,526.3" fill="none" stroke="#111" stroke-width="3.4"/>
<polygon points="1108.4,499.9 1134.3,514.9 1148.2,506.9 1122.2,491.9" fill="#f06a4a"/>
<path d="M1116.0,497.5 Q1129.5,491.2 1142.9,513.0" fill="none" stroke="#111" stroke-width="3.4"/>
<polygon points="1039.8,530.5 1084.0,556.0 1084.0,561.0 1040.8,535.5" fill="#3672da"/>
<polygon points="1084.0,556.0 1168.9,507.0 1167.9,512.0 1084.0,561.0" fill="#3d7fe4"/>
<polygon points="1037.8,596.5 1082.0,622.0 1083.0,660.0 1041.8,631.5" fill="#2b5cc6"/>
<polygon points="1082.0,622.0 1166.9,573.0 1162.9,608.0 1083.0,660.0" fill="#3470d6"/>
<polygon points="1037.8,596.5 1122.7,547.5 1166.9,573.0 1082.0,622.0" fill="#3a7be2"/>
<polygon points="1048.2,596.5 1122.7,553.5 1156.5,573.0 1082.0,616.0" fill="#2a5fc8"/>
<polygon points="1053.4,596.5 1122.7,556.5 1153.0,574.0 1083.7,614.0" fill="#131313"/>
<polygon points="1060.2,592.6 1086.2,607.6 1100.0,599.6 1074.0,584.6" fill="#e6c233"/>
<path d="M1067.9,590.2 Q1081.3,583.9 1094.7,605.7" fill="none" stroke="#111" stroke-width="3.4"/>
<polygon points="1083.3,579.3 1109.3,594.3 1123.1,586.3 1097.1,571.3" fill="#e6c233"/>
<path d="M1090.9,576.8 Q1104.4,570.6 1117.8,592.3" fill="none" stroke="#111" stroke-width="3.4"/>
<polygon points="1106.4,565.9 1132.3,580.9 1146.2,572.9 1120.2,557.9" fill="#e6c233"/>
<path d="M1114.0,563.5 Q1127.5,557.2 1140.9,579.0" fill="none" stroke="#111" stroke-width="3.4"/>
<polygon points="1037.8,596.5 1082.0,622.0 1082.0,627.0 1038.8,601.5" fill="#3672da"/>
<polygon points="1082.0,622.0 1166.9,573.0 1165.9,578.0 1082.0,627.0" fill="#3d7fe4"/>
<polygon points="1037.8,682.5 1082.0,708.0 1083.0,746.0 1041.8,717.5" fill="#2b5cc6"/>
<polygon points="1082.0,708.0 1166.9,659.0 1162.9,694.0 1083.0,746.0" fill="#3470d6"/>
<polygon points="1037.8,682.5 1122.7,633.5 1166.9,659.0 1082.0,708.0" fill="#3a7be2"/>
<polygon points="1048.2,682.5 1122.7,639.5 1156.5,659.0 1082.0,702.0" fill="#2a5fc8"/>
<polygon points="1053.4,682.5 1122.7,642.5 1153.0,660.0 1083.7,700.0" fill="#131313"/>
<polygon points="1060.2,678.6 1086.2,693.6 1100.0,685.6 1074.0,670.6" fill="#4cc544"/>
<path d="M1067.9,676.2 Q1081.3,669.9 1094.7,691.7" fill="none" stroke="#111" stroke-width="3.4"/>
<polygon points="1083.3,665.3 1109.3,680.3 1123.1,672.3 1097.1,657.3" fill="#4cc544"/>
<path d="M1090.9,662.8 Q1104.4,656.6 1117.8,678.3" fill="none" stroke="#111" stroke-width="3.4"/>
<polygon points="1106.4,651.9 1132.3,666.9 1146.2,658.9 1120.2,643.9" fill="#4cc544"/>
<path d="M1114.0,649.5 Q1127.5,643.2 1140.9,665.0" fill="none" stroke="#111" stroke-width="3.4"/>
<polygon points="1037.8,682.5 1082.0,708.0 1082.0,713.0 1038.8,687.5" fill="#3672da"/>
<polygon points="1082.0,708.0 1166.9,659.0 1165.9,664.0 1082.0,713.0" fill="#3d7fe4"/>
<polygon points="1036.8,753.5 1081.0,779.0 1082.0,817.0 1040.8,788.5" fill="#2b5cc6"/>
<polygon points="1081.0,779.0 1165.9,730.0 1161.9,765.0 1082.0,817.0" fill="#3470d6"/>
<polygon points="1036.8,753.5 1121.7,704.5 1165.9,730.0 1081.0,779.0" fill="#3a7be2"/>
<polygon points="1047.2,753.5 1121.7,710.5 1155.5,730.0 1081.0,773.0" fill="#2a5fc8"/>
<polygon points="1052.4,753.5 1121.7,713.5 1152.0,731.0 1082.7,771.0" fill="#131313"/>
<polygon points="1059.2,749.6 1085.2,764.6 1099.0,756.6 1073.0,741.6" fill="#f2a22e"/>
<path d="M1066.9,747.2 Q1080.3,740.9 1093.7,762.7" fill="none" stroke="#111" stroke-width="3.4"/>
<polygon points="1082.3,736.3 1108.3,751.3 1122.1,743.3 1096.1,728.3" fill="#f2a22e"/>
<path d="M1089.9,733.8 Q1103.4,727.6 1116.8,749.3" fill="none" stroke="#111" stroke-width="3.4"/>
<polygon points="1105.4,722.9 1131.3,737.9 1145.2,729.9 1119.2,714.9" fill="#f2a22e"/>
<path d="M1113.0,720.5 Q1126.5,714.2 1139.9,736.0" fill="none" stroke="#111" stroke-width="3.4"/>
<polygon points="1036.8,753.5 1081.0,779.0 1081.0,784.0 1037.8,758.5" fill="#3672da"/>
<polygon points="1081.0,779.0 1165.9,730.0 1164.9,735.0 1081.0,784.0" fill="#3d7fe4"/>
<line x1="1035.0" y1="570.0" x2="1077.0" y2="594.0" stroke="#4a5668" stroke-width="4" stroke-linecap="round"/>
<line x1="1035.0" y1="636.0" x2="1077.0" y2="660.0" stroke="#4a5668" stroke-width="4" stroke-linecap="round"/>
<line x1="1035.0" y1="722.0" x2="1077.0" y2="746.0" stroke="#4a5668" stroke-width="4" stroke-linecap="round"/>
<line x1="1035.0" y1="793.0" x2="1077.0" y2="817.0" stroke="#4a5668" stroke-width="4" stroke-linecap="round"/>
<rect x="1032.5" y="494.0" width="5" height="321.0" fill="#4a5668" rx="2"/>
<rect x="1074.5" y="557.0" width="5" height="273.0" fill="#4a5668" rx="2"/>
<!-- baskets & people -->
<polygon points="986.0,772.0 1013.0,755.0 1061.0,785.0 1058.8,839.9 1039.6,851.6 993.0,825.0" fill="#0e0e0e"/>
<polygon points="1034.0,802.0 1061.0,785.0 1058.8,839.9 1039.6,851.6" fill="#070707"/>
<ellipse cx="991.1" cy="780.3" rx="1.3" ry="2.4" transform="rotate(30 991.1 780.3)" fill="#f4f4f4"/>
<ellipse cx="998.3" cy="784.8" rx="1.3" ry="2.4" transform="rotate(30 998.3 784.8)" fill="#f4f4f4"/>
<ellipse cx="1005.6" cy="789.3" rx="1.3" ry="2.4" transform="rotate(30 1005.6 789.3)" fill="#f4f4f4"/>
<ellipse cx="1012.8" cy="793.7" rx="1.3" ry="2.4" transform="rotate(30 1012.8 793.7)" fill="#f4f4f4"/>
<ellipse cx="1020.1" cy="798.2" rx="1.3" ry="2.4" transform="rotate(30 1020.1 798.2)" fill="#f4f4f4"/>
<ellipse cx="1027.3" cy="802.7" rx="1.3" ry="2.4" transform="rotate(30 1027.3 802.7)" fill="#8a8a8a"/>
<ellipse cx="994.9" cy="789.0" rx="1.3" ry="2.4" transform="rotate(30 994.9 789.0)" fill="#f4f4f4"/>
<ellipse cx="1002.1" cy="793.4" rx="1.3" ry="2.4" transform="rotate(30 1002.1 793.4)" fill="#f4f4f4"/>
<ellipse cx="1009.3" cy="797.8" rx="1.3" ry="2.4" transform="rotate(30 1009.3 797.8)" fill="#f4f4f4"/>
<ellipse cx="1016.5" cy="802.2" rx="1.3" ry="2.4" transform="rotate(30 1016.5 802.2)" fill="#f4f4f4"/>
<ellipse cx="1023.8" cy="806.7" rx="1.3" ry="2.4" transform="rotate(30 1023.8 806.7)" fill="#8a8a8a"/>
<ellipse cx="1031.0" cy="811.1" rx="1.3" ry="2.4" transform="rotate(30 1031.0 811.1)" fill="#8a8a8a"/>
<ellipse cx="992.9" cy="794.1" rx="1.3" ry="2.4" transform="rotate(30 992.9 794.1)" fill="#f4f4f4"/>
<ellipse cx="1000.1" cy="798.5" rx="1.3" ry="2.4" transform="rotate(30 1000.1 798.5)" fill="#f4f4f4"/>
<ellipse cx="1007.3" cy="802.9" rx="1.3" ry="2.4" transform="rotate(30 1007.3 802.9)" fill="#f4f4f4"/>
<ellipse cx="1014.5" cy="807.2" rx="1.3" ry="2.4" transform="rotate(30 1014.5 807.2)" fill="#f4f4f4"/>
<ellipse cx="1021.7" cy="811.6" rx="1.3" ry="2.4" transform="rotate(30 1021.7 811.6)" fill="#f4f4f4"/>
<ellipse cx="1028.9" cy="815.9" rx="1.3" ry="2.4" transform="rotate(30 1028.9 815.9)" fill="#8a8a8a"/>
<ellipse cx="996.7" cy="802.8" rx="1.3" ry="2.4" transform="rotate(30 996.7 802.8)" fill="#8a8a8a"/>
<ellipse cx="1003.8" cy="807.1" rx="1.3" ry="2.4" transform="rotate(30 1003.8 807.1)" fill="#8a8a8a"/>
<ellipse cx="1011.0" cy="811.4" rx="1.3" ry="2.4" transform="rotate(30 1011.0 811.4)" fill="#8a8a8a"/>
<ellipse cx="1018.2" cy="815.7" rx="1.3" ry="2.4" transform="rotate(30 1018.2 815.7)" fill="#8a8a8a"/>
<ellipse cx="1025.3" cy="819.9" rx="1.3" ry="2.4" transform="rotate(30 1025.3 819.9)" fill="#8a8a8a"/>
<ellipse cx="1032.5" cy="824.2" rx="1.3" ry="2.4" transform="rotate(30 1032.5 824.2)" fill="#8a8a8a"/>
<ellipse cx="994.7" cy="808.0" rx="1.3" ry="2.4" transform="rotate(30 994.7 808.0)" fill="#2c2c2c"/>
<ellipse cx="1001.8" cy="812.2" rx="1.3" ry="2.4" transform="rotate(30 1001.8 812.2)" fill="#2c2c2c"/>
<ellipse cx="1009.0" cy="816.4" rx="1.3" ry="2.4" transform="rotate(30 1009.0 816.4)" fill="#2c2c2c"/>
<ellipse cx="1016.1" cy="820.7" rx="1.3" ry="2.4" transform="rotate(30 1016.1 820.7)" fill="#2c2c2c"/>
<ellipse cx="1023.3" cy="824.9" rx="1.3" ry="2.4" transform="rotate(30 1023.3 824.9)" fill="#2c2c2c"/>
<ellipse cx="1030.4" cy="829.1" rx="1.3" ry="2.4" transform="rotate(30 1030.4 829.1)" fill="#2c2c2c"/>
<ellipse cx="998.5" cy="816.6" rx="1.3" ry="2.4" transform="rotate(30 998.5 816.6)" fill="#2c2c2c"/>
<ellipse cx="1005.6" cy="820.8" rx="1.3" ry="2.4" transform="rotate(30 1005.6 820.8)" fill="#2c2c2c"/>
<ellipse cx="1012.7" cy="824.9" rx="1.3" ry="2.4" transform="rotate(30 1012.7 824.9)" fill="#2c2c2c"/>
<ellipse cx="1019.8" cy="829.1" rx="1.3" ry="2.4" transform="rotate(30 1019.8 829.1)" fill="#2c2c2c"/>
<ellipse cx="1026.9" cy="833.2" rx="1.3" ry="2.4" transform="rotate(30 1026.9 833.2)" fill="#2c2c2c"/>
<ellipse cx="1034.0" cy="837.4" rx="1.3" ry="2.4" transform="rotate(30 1034.0 837.4)" fill="#2c2c2c"/>
<ellipse cx="996.5" cy="821.9" rx="1.3" ry="2.4" transform="rotate(30 996.5 821.9)" fill="#2c2c2c"/>
<ellipse cx="1003.6" cy="826.0" rx="1.3" ry="2.4" transform="rotate(30 1003.6 826.0)" fill="#2c2c2c"/>
<ellipse cx="1010.7" cy="830.0" rx="1.3" ry="2.4" transform="rotate(30 1010.7 830.0)" fill="#2c2c2c"/>
<ellipse cx="1017.8" cy="834.1" rx="1.3" ry="2.4" transform="rotate(30 1017.8 834.1)" fill="#2c2c2c"/>
<ellipse cx="1024.8" cy="838.2" rx="1.3" ry="2.4" transform="rotate(30 1024.8 838.2)" fill="#2c2c2c"/>
<ellipse cx="1031.9" cy="842.3" rx="1.3" ry="2.4" transform="rotate(30 1031.9 842.3)" fill="#2c2c2c"/>
<ellipse cx="1039.6" cy="804.9" rx="1.3" ry="2.2" fill="#1e1e1e"/>
<ellipse cx="1047.7" cy="799.8" rx="1.3" ry="2.2" fill="#1e1e1e"/>
<ellipse cx="1055.8" cy="794.7" rx="1.3" ry="2.2" fill="#1e1e1e"/>
<ellipse cx="1040.2" cy="812.6" rx="1.3" ry="2.2" fill="#1e1e1e"/>
<ellipse cx="1048.0" cy="807.8" rx="1.3" ry="2.2" fill="#1e1e1e"/>
<ellipse cx="1055.7" cy="802.9" rx="1.3" ry="2.2" fill="#1e1e1e"/>
<ellipse cx="1040.8" cy="820.3" rx="1.3" ry="2.2" fill="#1e1e1e"/>
<ellipse cx="1048.2" cy="815.7" rx="1.3" ry="2.2" fill="#1e1e1e"/>
<ellipse cx="1055.6" cy="811.1" rx="1.3" ry="2.2" fill="#1e1e1e"/>
<ellipse cx="1041.4" cy="827.9" rx="1.3" ry="2.2" fill="#1e1e1e"/>
<ellipse cx="1048.5" cy="823.6" rx="1.3" ry="2.2" fill="#1e1e1e"/>
<ellipse cx="1055.5" cy="819.2" rx="1.3" ry="2.2" fill="#1e1e1e"/>
<ellipse cx="1042.1" cy="835.6" rx="1.3" ry="2.2" fill="#1e1e1e"/>
<ellipse cx="1048.7" cy="831.5" rx="1.3" ry="2.2" fill="#1e1e1e"/>
<ellipse cx="1055.4" cy="827.4" rx="1.3" ry="2.2" fill="#1e1e1e"/>
<ellipse cx="1042.7" cy="843.3" rx="1.3" ry="2.2" fill="#1e1e1e"/>
<ellipse cx="1049.0" cy="839.4" rx="1.3" ry="2.2" fill="#1e1e1e"/>
<ellipse cx="1055.3" cy="835.6" rx="1.3" ry="2.2" fill="#1e1e1e"/>
<path d="M1007.0,758.0 L1015.0,750.0 L1027.0,756.0" fill="none" stroke="#111" stroke-width="3"/>
<polygon points="952.0,795.0 979.0,778.0 1027.0,808.0 1024.8,862.9 1005.6,874.6 959.0,848.0" fill="#0e0e0e"/>
<polygon points="1000.0,825.0 1027.0,808.0 1024.8,862.9 1005.6,874.6" fill="#070707"/>
<ellipse cx="957.1" cy="803.3" rx="1.3" ry="2.4" transform="rotate(30 957.1 803.3)" fill="#f4f4f4"/>
<ellipse cx="964.3" cy="807.8" rx="1.3" ry="2.4" transform="rotate(30 964.3 807.8)" fill="#f4f4f4"/>
<ellipse cx="971.6" cy="812.3" rx="1.3" ry="2.4" transform="rotate(30 971.6 812.3)" fill="#f4f4f4"/>
<ellipse cx="978.8" cy="816.7" rx="1.3" ry="2.4" transform="rotate(30 978.8 816.7)" fill="#f4f4f4"/>
<ellipse cx="986.1" cy="821.2" rx="1.3" ry="2.4" transform="rotate(30 986.1 821.2)" fill="#f4f4f4"/>
<ellipse cx="993.3" cy="825.7" rx="1.3" ry="2.4" transform="rotate(30 993.3 825.7)" fill="#8a8a8a"/>
<ellipse cx="960.9" cy="812.0" rx="1.3" ry="2.4" transform="rotate(30 960.9 812.0)" fill="#f4f4f4"/>
<ellipse cx="968.1" cy="816.4" rx="1.3" ry="2.4" transform="rotate(30 968.1 816.4)" fill="#f4f4f4"/>
<ellipse cx="975.3" cy="820.8" rx="1.3" ry="2.4" transform="rotate(30 975.3 820.8)" fill="#f4f4f4"/>
<ellipse cx="982.5" cy="825.2" rx="1.3" ry="2.4" transform="rotate(30 982.5 825.2)" fill="#f4f4f4"/>
<ellipse cx="989.8" cy="829.7" rx="1.3" ry="2.4" transform="rotate(30 989.8 829.7)" fill="#8a8a8a"/>
<ellipse cx="997.0" cy="834.1" rx="1.3" ry="2.4" transform="rotate(30 997.0 834.1)" fill="#8a8a8a"/>
<ellipse cx="958.9" cy="817.1" rx="1.3" ry="2.4" transform="rotate(30 958.9 817.1)" fill="#f4f4f4"/>
<ellipse cx="966.1" cy="821.5" rx="1.3" ry="2.4" transform="rotate(30 966.1 821.5)" fill="#f4f4f4"/>
<ellipse cx="973.3" cy="825.9" rx="1.3" ry="2.4" transform="rotate(30 973.3 825.9)" fill="#f4f4f4"/>
<ellipse cx="980.5" cy="830.2" rx="1.3" ry="2.4" transform="rotate(30 980.5 830.2)" fill="#f4f4f4"/>
<ellipse cx="987.7" cy="834.6" rx="1.3" ry="2.4" transform="rotate(30 987.7 834.6)" fill="#f4f4f4"/>
<ellipse cx="994.9" cy="838.9" rx="1.3" ry="2.4" transform="rotate(30 994.9 838.9)" fill="#8a8a8a"/>
<ellipse cx="962.7" cy="825.8" rx="1.3" ry="2.4" transform="rotate(30 962.7 825.8)" fill="#8a8a8a"/>
<ellipse cx="969.8" cy="830.1" rx="1.3" ry="2.4" transform="rotate(30 969.8 830.1)" fill="#8a8a8a"/>
<ellipse cx="977.0" cy="834.4" rx="1.3" ry="2.4" transform="rotate(30 977.0 834.4)" fill="#8a8a8a"/>
<ellipse cx="984.2" cy="838.7" rx="1.3" ry="2.4" transform="rotate(30 984.2 838.7)" fill="#8a8a8a"/>
<ellipse cx="991.3" cy="842.9" rx="1.3" ry="2.4" transform="rotate(30 991.3 842.9)" fill="#8a8a8a"/>
<ellipse cx="998.5" cy="847.2" rx="1.3" ry="2.4" transform="rotate(30 998.5 847.2)" fill="#8a8a8a"/>
<ellipse cx="960.7" cy="831.0" rx="1.3" ry="2.4" transform="rotate(30 960.7 831.0)" fill="#2c2c2c"/>
<ellipse cx="967.8" cy="835.2" rx="1.3" ry="2.4" transform="rotate(30 967.8 835.2)" fill="#2c2c2c"/>
<ellipse cx="975.0" cy="839.4" rx="1.3" ry="2.4" transform="rotate(30 975.0 839.4)" fill="#2c2c2c"/>
<ellipse cx="982.1" cy="843.7" rx="1.3" ry="2.4" transform="rotate(30 982.1 843.7)" fill="#2c2c2c"/>
<ellipse cx="989.3" cy="847.9" rx="1.3" ry="2.4" transform="rotate(30 989.3 847.9)" fill="#2c2c2c"/>
<ellipse cx="996.4" cy="852.1" rx="1.3" ry="2.4" transform="rotate(30 996.4 852.1)" fill="#2c2c2c"/>
<ellipse cx="964.5" cy="839.6" rx="1.3" ry="2.4" transform="rotate(30 964.5 839.6)" fill="#2c2c2c"/>
<ellipse cx="971.6" cy="843.8" rx="1.3" ry="2.4" transform="rotate(30 971.6 843.8)" fill="#2c2c2c"/>
<ellipse cx="978.7" cy="847.9" rx="1.3" ry="2.4" transform="rotate(30 978.7 847.9)" fill="#2c2c2c"/>
<ellipse cx="985.8" cy="852.1" rx="1.3" ry="2.4" transform="rotate(30 985.8 852.1)" fill="#2c2c2c"/>
<ellipse cx="992.9" cy="856.2" rx="1.3" ry="2.4" transform="rotate(30 992.9 856.2)" fill="#2c2c2c"/>
<ellipse cx="1000.0" cy="860.4" rx="1.3" ry="2.4" transform="rotate(30 1000.0 860.4)" fill="#2c2c2c"/>
<ellipse cx="962.5" cy="844.9" rx="1.3" ry="2.4" transform="rotate(30 962.5 844.9)" fill="#2c2c2c"/>
<ellipse cx="969.6" cy="849.0" rx="1.3" ry="2.4" transform="rotate(30 969.6 849.0)" fill="#2c2c2c"/>
<ellipse cx="976.7" cy="853.0" rx="1.3" ry="2.4" transform="rotate(30 976.7 853.0)" fill="#2c2c2c"/>
<ellipse cx="983.8" cy="857.1" rx="1.3" ry="2.4" transform="rotate(30 983.8 857.1)" fill="#2c2c2c"/>
<ellipse cx="990.8" cy="861.2" rx="1.3" ry="2.4" transform="rotate(30 990.8 861.2)" fill="#2c2c2c"/>
<ellipse cx="997.9" cy="865.3" rx="1.3" ry="2.4" transform="rotate(30 997.9 865.3)" fill="#2c2c2c"/>
<ellipse cx="1005.6" cy="827.9" rx="1.3" ry="2.2" fill="#1e1e1e"/>
<ellipse cx="1013.7" cy="822.8" rx="1.3" ry="2.2" fill="#1e1e1e"/>
<ellipse cx="1021.8" cy="817.7" rx="1.3" ry="2.2" fill="#1e1e1e"/>
<ellipse cx="1006.2" cy="835.6" rx="1.3" ry="2.2" fill="#1e1e1e"/>
<ellipse cx="1014.0" cy="830.8" rx="1.3" ry="2.2" fill="#1e1e1e"/>
<ellipse cx="1021.7" cy="825.9" rx="1.3" ry="2.2" fill="#1e1e1e"/>
<ellipse cx="1006.8" cy="843.3" rx="1.3" ry="2.2" fill="#1e1e1e"/>
<ellipse cx="1014.2" cy="838.7" rx="1.3" ry="2.2" fill="#1e1e1e"/>
<ellipse cx="1021.6" cy="834.1" rx="1.3" ry="2.2" fill="#1e1e1e"/>
<ellipse cx="1007.4" cy="850.9" rx="1.3" ry="2.2" fill="#1e1e1e"/>
<ellipse cx="1014.5" cy="846.6" rx="1.3" ry="2.2" fill="#1e1e1e"/>
<ellipse cx="1021.5" cy="842.2" rx="1.3" ry="2.2" fill="#1e1e1e"/>
<ellipse cx="1008.1" cy="858.6" rx="1.3" ry="2.2" fill="#1e1e1e"/>
<ellipse cx="1014.7" cy="854.5" rx="1.3" ry="2.2" fill="#1e1e1e"/>
<ellipse cx="1021.4" cy="850.4" rx="1.3" ry="2.2" fill="#1e1e1e"/>
<ellipse cx="1008.7" cy="866.3" rx="1.3" ry="2.2" fill="#1e1e1e"/>
<ellipse cx="1015.0" cy="862.4" rx="1.3" ry="2.2" fill="#1e1e1e"/>
<ellipse cx="1021.3" cy="858.6" rx="1.3" ry="2.2" fill="#1e1e1e"/>
<path d="M973.0,781.0 L981.0,773.0 L993.0,779.0" fill="none" stroke="#111" stroke-width="3"/>
<polygon points="918.0,817.0 945.0,800.0 993.0,830.0 990.8,884.9 971.6,896.6 925.0,870.0" fill="#0e0e0e"/>
<polygon points="966.0,847.0 993.0,830.0 990.8,884.9 971.6,896.6" fill="#070707"/>
<ellipse cx="923.1" cy="825.3" rx="1.3" ry="2.4" transform="rotate(30 923.1 825.3)" fill="#f4f4f4"/>
<ellipse cx="930.3" cy="829.8" rx="1.3" ry="2.4" transform="rotate(30 930.3 829.8)" fill="#f4f4f4"/>
<ellipse cx="937.6" cy="834.3" rx="1.3" ry="2.4" transform="rotate(30 937.6 834.3)" fill="#f4f4f4"/>
<ellipse cx="944.8" cy="838.7" rx="1.3" ry="2.4" transform="rotate(30 944.8 838.7)" fill="#f4f4f4"/>
<ellipse cx="952.1" cy="843.2" rx="1.3" ry="2.4" transform="rotate(30 952.1 843.2)" fill="#f4f4f4"/>
<ellipse cx="959.3" cy="847.7" rx="1.3" ry="2.4" transform="rotate(30 959.3 847.7)" fill="#8a8a8a"/>
<ellipse cx="926.9" cy="834.0" rx="1.3" ry="2.4" transform="rotate(30 926.9 834.0)" fill="#f4f4f4"/>
<ellipse cx="934.1" cy="838.4" rx="1.3" ry="2.4" transform="rotate(30 934.1 838.4)" fill="#f4f4f4"/>
<ellipse cx="941.3" cy="842.8" rx="1.3" ry="2.4" transform="rotate(30 941.3 842.8)" fill="#f4f4f4"/>
<ellipse cx="948.5" cy="847.2" rx="1.3" ry="2.4" transform="rotate(30 948.5 847.2)" fill="#f4f4f4"/>
<ellipse cx="955.8" cy="851.7" rx="1.3" ry="2.4" transform="rotate(30 955.8 851.7)" fill="#8a8a8a"/>
<ellipse cx="963.0" cy="856.1" rx="1.3" ry="2.4" transform="rotate(30 963.0 856.1)" fill="#8a8a8a"/>
<ellipse cx="924.9" cy="839.1" rx="1.3" ry="2.4" transform="rotate(30 924.9 839.1)" fill="#f4f4f4"/>
<ellipse cx="932.1" cy="843.5" rx="1.3" ry="2.4" transform="rotate(30 932.1 843.5)" fill="#f4f4f4"/>
<ellipse cx="939.3" cy="847.9" rx="1.3" ry="2.4" transform="rotate(30 939.3 847.9)" fill="#f4f4f4"/>
<ellipse cx="946.5" cy="852.2" rx="1.3" ry="2.4" transform="rotate(30 946.5 852.2)" fill="#f4f4f4"/>
<ellipse cx="953.7" cy="856.6" rx="1.3" ry="2.4" transform="rotate(30 953.7 856.6)" fill="#f4f4f4"/>
<ellipse cx="960.9" cy="860.9" rx="1.3" ry="2.4" transform="rotate(30 960.9 860.9)" fill="#8a8a8a"/>
<ellipse cx="928.7" cy="847.8" rx="1.3" ry="2.4" transform="rotate(30 928.7 847.8)" fill="#8a8a8a"/>
<ellipse cx="935.8" cy="852.1" rx="1.3" ry="2.4" transform="rotate(30 935.8 852.1)" fill="#8a8a8a"/>
<ellipse cx="943.0" cy="856.4" rx="1.3" ry="2.4" transform="rotate(30 943.0 856.4)" fill="#8a8a8a"/>
<ellipse cx="950.2" cy="860.7" rx="1.3" ry="2.4" transform="rotate(30 950.2 860.7)" fill="#8a8a8a"/>
<ellipse cx="957.3" cy="864.9" rx="1.3" ry="2.4" transform="rotate(30 957.3 864.9)" fill="#8a8a8a"/>
<ellipse cx="964.5" cy="869.2" rx="1.3" ry="2.4" transform="rotate(30 964.5 869.2)" fill="#8a8a8a"/>
<ellipse cx="926.7" cy="853.0" rx="1.3" ry="2.4" transform="rotate(30 926.7 853.0)" fill="#2c2c2c"/>
<ellipse cx="933.8" cy="857.2" rx="1.3" ry="2.4" transform="rotate(30 933.8 857.2)" fill="#2c2c2c"/>
<ellipse cx="941.0" cy="861.4" rx="1.3" ry="2.4" transform="rotate(30 941.0 861.4)" fill="#2c2c2c"/>
<ellipse cx="948.1" cy="865.7" rx="1.3" ry="2.4" transform="rotate(30 948.1 865.7)" fill="#2c2c2c"/>
<ellipse cx="955.3" cy="869.9" rx="1.3" ry="2.4" transform="rotate(30 955.3 869.9)" fill="#2c2c2c"/>
<ellipse cx="962.4" cy="874.1" rx="1.3" ry="2.4" transform="rotate(30 962.4 874.1)" fill="#2c2c2c"/>
<ellipse cx="930.5" cy="861.6" rx="1.3" ry="2.4" transform="rotate(30 930.5 861.6)" fill="#2c2c2c"/>
<ellipse cx="937.6" cy="865.8" rx="1.3" ry="2.4" transform="rotate(30 937.6 865.8)" fill="#2c2c2c"/>
<ellipse cx="944.7" cy="869.9" rx="1.3" ry="2.4" transform="rotate(30 944.7 869.9)" fill="#2c2c2c"/>
<ellipse cx="951.8" cy="874.1" rx="1.3" ry="2.4" transform="rotate(30 951.8 874.1)" fill="#2c2c2c"/>
<ellipse cx="958.9" cy="878.2" rx="1.3" ry="2.4" transform="rotate(30 958.9 878.2)" fill="#2c2c2c"/>
<ellipse cx="966.0" cy="882.4" rx="1.3" ry="2.4" transform="rotate(30 966.0 882.4)" fill="#2c2c2c"/>
<ellipse cx="928.5" cy="866.9" rx="1.3" ry="2.4" transform="rotate(30 928.5 866.9)" fill="#2c2c2c"/>
<ellipse cx="935.6" cy="871.0" rx="1.3" ry="2.4" transform="rotate(30 935.6 871.0)" fill="#2c2c2c"/>
<ellipse cx="942.7" cy="875.0" rx="1.3" ry="2.4" transform="rotate(30 942.7 875.0)" fill="#2c2c2c"/>
<ellipse cx="949.8" cy="879.1" rx="1.3" ry="2.4" transform="rotate(30 949.8 879.1)" fill="#2c2c2c"/>
<ellipse cx="956.8" cy="883.2" rx="1.3" ry="2.4" transform="rotate(30 956.8 883.2)" fill="#2c2c2c"/>
<ellipse cx="963.9" cy="887.3" rx="1.3" ry="2.4" transform="rotate(30 963.9 887.3)" fill="#2c2c2c"/>
<ellipse cx="971.6" cy="849.9" rx="1.3" ry="2.2" fill="#1e1e1e"/>
<ellipse cx="979.7" cy="844.8" rx="1.3" ry="2.2" fill="#1e1e1e"/>
<ellipse cx="987.8" cy="839.7" rx="1.3" ry="2.2" fill="#1e1e1e"/>
<ellipse cx="972.2" cy="857.6" rx="1.3" ry="2.2" fill="#1e1e1e"/>
<ellipse cx="980.0" cy="852.8" rx="1.3" ry="2.2" fill="#1e1e1e"/>
<ellipse cx="987.7" cy="847.9" rx="1.3" ry="2.2" fill="#1e1e1e"/>
<ellipse cx="972.8" cy="865.3" rx="1.3" ry="2.2" fill="#1e1e1e"/>
<ellipse cx="980.2" cy="860.7" rx="1.3" ry="2.2" fill="#1e1e1e"/>
<ellipse cx="987.6" cy="856.1" rx="1.3" ry="2.2" fill="#1e1e1e"/>
<ellipse cx="973.4" cy="872.9" rx="1.3" ry="2.2" fill="#1e1e1e"/>
<ellipse cx="980.5" cy="868.6" rx="1.3" ry="2.2" fill="#1e1e1e"/>
<ellipse cx="987.5" cy="864.2" rx="1.3" ry="2.2" fill="#1e1e1e"/>
<ellipse cx="974.1" cy="880.6" rx="1.3" ry="2.2" fill="#1e1e1e"/>
<ellipse cx="980.7" cy="876.5" rx="1.3" ry="2.2" fill="#1e1e1e"/>
<ellipse cx="987.4" cy="872.4" rx="1.3" ry="2.2" fill="#1e1e1e"/>
<ellipse cx="974.7" cy="888.3" rx="1.3" ry="2.2" fill="#1e1e1e"/>
<ellipse cx="981.0" cy="884.4" rx="1.3" ry="2.2" fill="#1e1e1e"/>
<ellipse cx="987.3" cy="880.6" rx="1.3" ry="2.2" fill="#1e1e1e"/>
<path d="M939.0,803.0 L947.0,795.0 L959.0,801.0" fill="none" stroke="#111" stroke-width="3"/>
<g id="woman"><path d="M1452,900 L1470,898 L1480,912 L1478,924 L1458,926 L1450,915 Z" fill="#dfe4ea"/><path d="M1462,905 L1478,902 L1484,915 L1470,920 Z" fill="#eef1f4"/><path d="M1446,800 L1496,795 L1500,830 L1494,860 L1480,900 L1470,902 L1476,860 L1474,830 L1468,855 L1464,905 L1452,905 L1448,860 L1444,830 Z" fill="#23395a"/><path d="M1470,800 L1496,795 L1500,830 L1494,860 L1480,900 L1470,902 L1478,860 Z" fill="#2b4468"/><path d="M1444,722 Q1448,716 1458,716 L1482,720 Q1494,724 1496,740 L1494,806 Q1470,812 1444,806 L1441,760 Z" fill="#b262d2"/><path d="M1476,745 Q1490,752 1500,768 L1520,760 L1542,750 L1546,756 L1525,772 L1502,780 Q1488,776 1478,762 Z" fill="#f2c2a2"/><path d="M1484,734 L1500,728 L1504,732 L1490,740 Z" fill="#f2c2a2"/><path d="M1446,700 Q1448,685 1464,685 Q1480,686 1482,700 L1482,744 L1470,742 L1466,748 L1454,746 L1446,740 Z" fill="#7a3c1c"/><path d="M1474,694 L1482,694 L1484,712 L1476,716 Z" fill="#f0bfa0"/></g>
<g id="man2"><path d="M1545,880 L1575,874 L1578,886 L1548,892 Z" fill="#46524e"/><path d="M1617,838 L1638,832 L1640,848 L1626,866 L1617,863 Z" fill="#46524e"/><path d="M1560,768 L1612,765 L1622,800 L1640,834 L1626,840 L1605,808 L1590,790 L1582,830 L1576,878 L1556,880 L1556,830 Z" fill="#2d6898"/><path d="M1586,770 L1612,765 L1622,800 L1640,834 L1626,840 L1605,808 L1592,790 Z" fill="#357ab0"/><path d="M1562,690 Q1575,684 1590,688 L1608,694 Q1618,702 1618,722 L1616,772 Q1590,778 1560,772 L1556,730 Z" fill="#cc0f1a"/><path d="M1598,700 Q1612,702 1614,730 L1612,760 L1596,762 Z" fill="#b80c16"/><path d="M1574,672 L1598,670 L1600,690 L1588,698 L1576,692 Z" fill="#f2c2a2"/><path d="M1568,668 Q1570,652 1588,652 Q1604,654 1603,672 L1590,672 L1570,676 L1566,672 Z" fill="#d4121c"/><path d="M1566,668 L1580,666 L1578,674 L1562,674 Z" fill="#e52a2a"/></g>
<g id="bag"><path d="M1516,705 L1548,700 L1567,712 L1566,768 L1548,778 L1516,760 Z" fill="#d6b594"/><path d="M1548,700 L1567,712 L1566,768 L1548,778 Z" fill="#c8a27e"/><rect x="1518" y="668" width="9" height="42" rx="4" fill="#e29a3a"/><circle cx="1532" cy="694" r="6" fill="#eef2f8"/><path d="M1530,700 Q1545,684 1560,692 L1555,708 L1528,710 Z" fill="#f2c020"/><circle cx="1545" cy="710" r="5" fill="#d62a2a"/><circle cx="1558" cy="705" r="4" fill="#c03040"/><circle cx="1538" cy="688" r="4" fill="#f08a2a"/><path d="M1522,670 L1528,660 L1532,672 Z" fill="#58a84a"/><path d="M1549,750 Q1560,745 1566,752 L1564,762 L1552,764 Z" fill="#f2c2a2"/><path d="M1530,748 Q1540,744 1546,750 L1540,760 L1530,758 Z" fill="#f2c2a2"/></g>

<path d="M84.1,352.5 L95,346.8 L100.3,346.8 L100.3,400.8 L93.9,400.8 L93.9,354.5 L85.8,358.3 Z" fill="#111"/>
</svg>


<div class="bar" style="left:108.2px;top:345px;height:254.5px"></div>
<div class="t" style="left:122.6px;top:342.3px">Assurez des opérations<br>fluides et efficaces</div>
<div class="b" style="left:121.6px;top:417.7px">ReBasket facilite la<br>manipulation des<br>euroconteneurs en optimisant<br>l'espace et la charge,<br>accélérant la préparation des<br>commandes et le transport,<br>tout en économisant du temps<br>et réduisant les coûts<br>opérationnels.</div>

<div class="num" style="left:202.4px;top:639px">2</div>
<div class="bar" style="left:249.9px;top:649px;height:226.5px"></div>
<div class="t" style="left:264.4px;top:644.7px">Améliorez et optimisez<br>l'organisation de votre<br>entrepôt</div>
<div class="b" style="left:263.4px;top:728.7px">Avec ReBasket, gardez vos<br>produits (frais, secs, fragiles,<br>chimiques...) en sécurité,<br>optimisez leur organisation,<br>assurez leur intégrité et<br>réduisez les coûts de<br>stockage et de manutention.</div>

<div class="num" style="left:561px;top:741px">3</div>
<div class="bar" style="left:608.5px;top:751px;height:178.6px"></div>
<div class="t" style="left:622.5px;top:747.5px">Gardez vos produits en<br>sécurité et intacts</div>
<div class="b" style="left:621.5px;top:807.7px">Avec ReBasket, protégez vos<br>produits fragiles lors du<br>transport avec des articles<br>lourds, garantissez la qualité<br>des commandes et évitez les<br>coûts de remplacement.</div>

<div class="num" style="left:902.6px;top:62.5px">4</div>
<div class="bar" style="left:949.7px;top:74.6px;height:181.6px"></div>
<div class="t" style="left:967.3px;top:68.7px">Créez un espace de travail<br>sécurisé et performant</div>
<div class="b" style="left:966.3px;top:129.9px">Avec ReBasket, réduisez les<br>risques de casse, créez un<br>environnement plus sûr et propre,<br>et diminuez vos coûts. Protégez<br>votre inventaire, boostez<br>l'efficacité et optimisez vos profits.</div>

<div class="num" style="left:1295.8px;top:256px">5</div>
<div class="bar" style="left:1342px;top:269px;height:178px"></div>
<div class="t" style="left:1356.8px;top:262.4px">Clients satisfaits, réussite<br>assurée pour tous !</div>
<div class="b" style="left:1355.8px;top:322.9px">Prévenez casse et livraisons<br>endommagées pour garantir une<br>qualité parfaite. Maximisez la<br>satisfaction, réduisez les retours et<br>économisez. Votre succès est dans<br>chaque livraison.</div>
</body></html>
